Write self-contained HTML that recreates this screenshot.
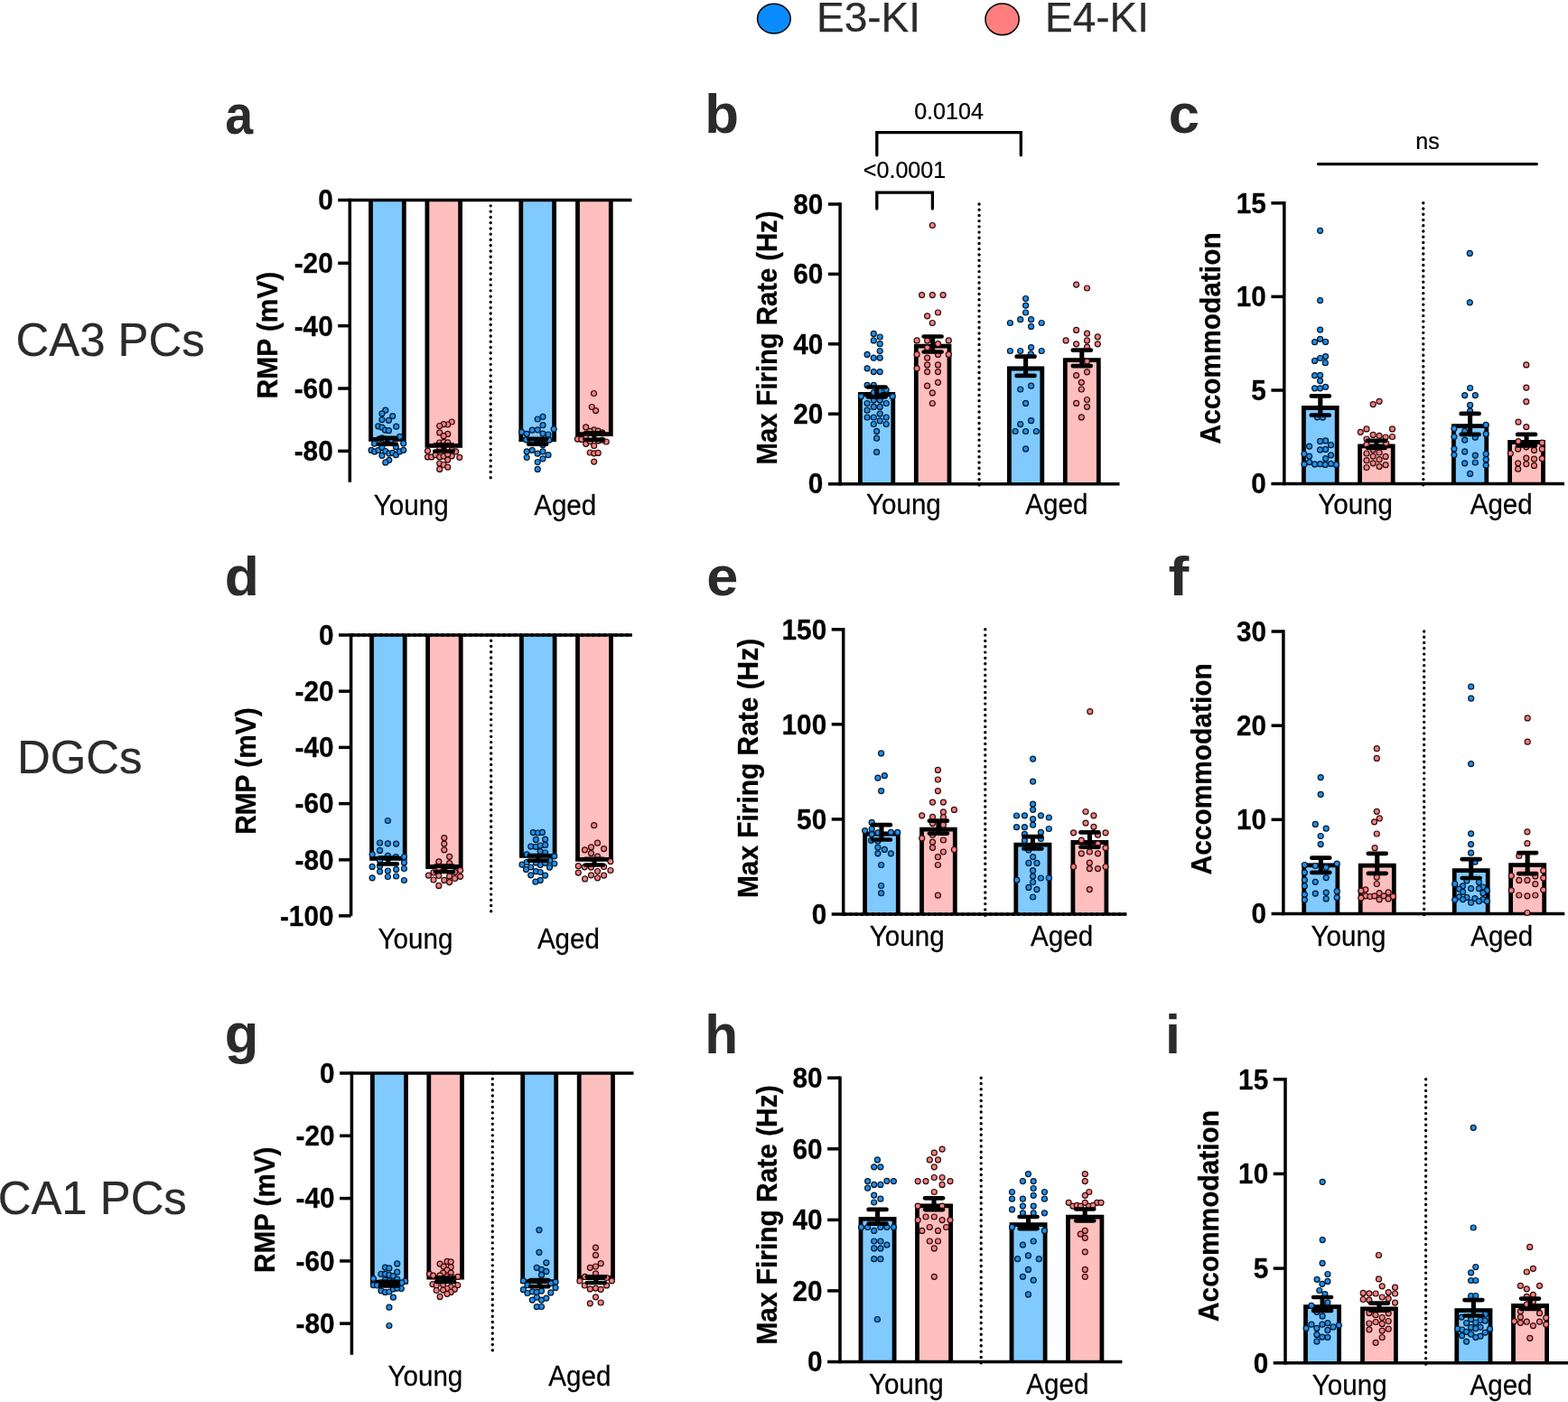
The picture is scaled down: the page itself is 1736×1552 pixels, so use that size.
<!DOCTYPE html>
<html lang="en">
<head>
<meta charset="utf-8">
<title>Figure: E3-KI vs E4-KI electrophysiology</title>
<style>
html,body{margin:0;padding:0;background:#fff;}
body{width:1736px;height:1552px;overflow:hidden;font-family:"Liberation Sans",Arial,Helvetica,sans-serif;}
svg{display:block;}
</style>
</head>
<body>
<svg width="1736" height="1552" viewBox="0 0 1736 1552" font-family="'Liberation Sans', Arial, Helvetica, sans-serif">
<rect x="0" y="0" width="1736" height="1552" fill="#fff"/>
<ellipse cx="856.9" cy="20.7" rx="18.3" ry="16.4" fill="#0a8cff" stroke="#000" stroke-width="1.5"/>
<text transform="translate(904 34.9)" font-size="46" font-weight="normal" text-anchor="start" fill="#2b2b2b" stroke="#2b2b2b" stroke-width="0.25" stroke-linejoin="round">E3-KI</text>
<ellipse cx="1109.6" cy="21.4" rx="18.6" ry="17.3" fill="#ff7f7f" stroke="#000" stroke-width="1.5"/>
<text transform="translate(1157 34.9)" font-size="46" font-weight="normal" text-anchor="start" fill="#2b2b2b" stroke="#2b2b2b" stroke-width="0.25" stroke-linejoin="round">E4-KI</text>
<text transform="translate(17.5 394.3) scale(0.967 1)" font-size="52.6" font-weight="normal" text-anchor="start" fill="#2b2b2b" stroke="#2b2b2b" stroke-width="0.25" stroke-linejoin="round">CA3 PCs</text>
<text transform="translate(19 856.1) scale(0.967 1)" font-size="52.6" font-weight="normal" text-anchor="start" fill="#2b2b2b" stroke="#2b2b2b" stroke-width="0.25" stroke-linejoin="round">DGCs</text>
<text transform="translate(-2.3 1343.6) scale(0.967 1)" font-size="52.6" font-weight="normal" text-anchor="start" fill="#2b2b2b" stroke="#2b2b2b" stroke-width="0.25" stroke-linejoin="round">CA1 PCs</text>
<g id="panel-a">
<rect x="410.5" y="221.6" width="36.8" height="267.1" fill="#80caff"/>
<path d="M410.5 221.6V486.3H447.3V221.6" fill="none" stroke="#000" stroke-width="4.8"/>
<rect x="472.9" y="221.6" width="36.7" height="274.2" fill="#ffbfbf"/>
<path d="M472.9 221.6V493.4H509.6V221.6" fill="none" stroke="#000" stroke-width="4.8"/>
<rect x="576.8" y="221.6" width="36.8" height="267.4" fill="#80caff"/>
<path d="M576.8 221.6V486.6H613.6V221.6" fill="none" stroke="#000" stroke-width="4.8"/>
<rect x="639.5" y="221.6" width="36.8" height="261.5" fill="#ffbfbf"/>
<path d="M639.5 221.6V480.7H676.3V221.6" fill="none" stroke="#000" stroke-width="4.8"/>
<line x1="543.2" y1="221.6" x2="543.2" y2="528.74" stroke="#000" stroke-width="3.4" stroke-linecap="round" stroke-dasharray="0 6.267"/>
<line x1="387.3" y1="219.85" x2="387.3" y2="533.7" stroke="#000" stroke-width="3.5"/>
<line x1="374.2" y1="221.6" x2="699.5" y2="221.6" stroke="#000" stroke-width="3.5"/>
<text transform="translate(368.7 232.42) scale(0.930 1)" font-size="32" font-weight="bold" text-anchor="end" fill="#000" stroke="#000" stroke-width="0.3" stroke-linejoin="round">0</text>
<line x1="374.2" y1="291.3" x2="387.3" y2="291.3" stroke="#000" stroke-width="3.5"/>
<text transform="translate(368.7 302.12) scale(0.930 1)" font-size="32" font-weight="bold" text-anchor="end" fill="#000" stroke="#000" stroke-width="0.3" stroke-linejoin="round">-20</text>
<line x1="374.2" y1="360.7" x2="387.3" y2="360.7" stroke="#000" stroke-width="3.5"/>
<text transform="translate(368.7 371.52) scale(0.930 1)" font-size="32" font-weight="bold" text-anchor="end" fill="#000" stroke="#000" stroke-width="0.3" stroke-linejoin="round">-40</text>
<line x1="374.2" y1="430" x2="387.3" y2="430" stroke="#000" stroke-width="3.5"/>
<text transform="translate(368.7 440.82) scale(0.930 1)" font-size="32" font-weight="bold" text-anchor="end" fill="#000" stroke="#000" stroke-width="0.3" stroke-linejoin="round">-60</text>
<line x1="374.2" y1="499.3" x2="387.3" y2="499.3" stroke="#000" stroke-width="3.5"/>
<text transform="translate(368.7 510.12) scale(0.930 1)" font-size="32" font-weight="bold" text-anchor="end" fill="#000" stroke="#000" stroke-width="0.3" stroke-linejoin="round">-80</text>
<g fill="#1e90ea" stroke="#06182c" stroke-width="1.2">
<circle cx="426.8" cy="454.2" r="3"/>
<circle cx="422.9" cy="457.8" r="3"/>
<circle cx="434.7" cy="460.6" r="3"/>
<circle cx="422.9" cy="464.6" r="3"/>
<circle cx="430.4" cy="465.3" r="3"/>
<circle cx="418.8" cy="471.8" r="3"/>
<circle cx="422.9" cy="473.1" r="3"/>
<circle cx="438.7" cy="472.2" r="3"/>
<circle cx="426.5" cy="476.1" r="3"/>
<circle cx="430.4" cy="476.7" r="3"/>
<circle cx="442.6" cy="483.4" r="3"/>
<circle cx="414.5" cy="491.1" r="3"/>
<circle cx="446.7" cy="490.9" r="3"/>
<circle cx="411.1" cy="498.4" r="3"/>
<circle cx="414.8" cy="499.9" r="3"/>
<circle cx="419" cy="498.3" r="3"/>
<circle cx="422.9" cy="495.3" r="3"/>
<circle cx="426.8" cy="499.5" r="3"/>
<circle cx="430.9" cy="502.2" r="3"/>
<circle cx="422.9" cy="504.3" r="3"/>
<circle cx="434.7" cy="501.4" r="3"/>
<circle cx="438.4" cy="503.7" r="3"/>
<circle cx="442.3" cy="499.9" r="3"/>
<circle cx="446.7" cy="498.3" r="3"/>
<circle cx="438.4" cy="494.7" r="3"/>
<circle cx="430.8" cy="509.3" r="3"/>
<circle cx="426.8" cy="511.9" r="3"/>
<circle cx="422.9" cy="484.9" r="3"/>
<circle cx="426.8" cy="486.4" r="3"/>
<circle cx="432.4" cy="487.9" r="3"/>
</g>
<g fill="#f48080" stroke="#2e0c0c" stroke-width="1.2">
<circle cx="500.2" cy="467" r="3"/>
<circle cx="495.7" cy="470" r="3"/>
<circle cx="491.2" cy="469.6" r="3"/>
<circle cx="486.7" cy="471.5" r="3"/>
<circle cx="486.7" cy="478.9" r="3"/>
<circle cx="495.7" cy="480.4" r="3"/>
<circle cx="491.2" cy="482.7" r="3"/>
<circle cx="486.7" cy="490" r="3"/>
<circle cx="491.2" cy="489.4" r="3"/>
<circle cx="495.7" cy="489.8" r="3"/>
<circle cx="473.5" cy="499.2" r="3"/>
<circle cx="504.7" cy="499.9" r="3"/>
<circle cx="473.5" cy="505.9" r="3"/>
<circle cx="477.7" cy="505.9" r="3"/>
<circle cx="482.2" cy="503.7" r="3"/>
<circle cx="486.7" cy="505.9" r="3"/>
<circle cx="491.2" cy="505.1" r="3"/>
<circle cx="495.7" cy="508.9" r="3"/>
<circle cx="500.2" cy="504.8" r="3"/>
<circle cx="508.8" cy="506.3" r="3"/>
<circle cx="486.7" cy="513" r="3"/>
<circle cx="491.2" cy="514.5" r="3"/>
<circle cx="495.7" cy="517.1" r="3"/>
<circle cx="486.7" cy="519.4" r="3"/>
<circle cx="495.7" cy="502.9" r="3"/>
<circle cx="491.2" cy="496.9" r="3"/>
<circle cx="486.7" cy="497.7" r="3"/>
<circle cx="500.2" cy="498.4" r="3"/>
</g>
<g fill="#1e90ea" stroke="#06182c" stroke-width="1.2">
<circle cx="601" cy="461.3" r="3"/>
<circle cx="595.2" cy="464" r="3"/>
<circle cx="601" cy="470.7" r="3"/>
<circle cx="589.2" cy="476.2" r="3"/>
<circle cx="595.2" cy="475.8" r="3"/>
<circle cx="613.2" cy="475" r="3"/>
<circle cx="577.6" cy="478.3" r="3"/>
<circle cx="583.2" cy="480.3" r="3"/>
<circle cx="601" cy="480.1" r="3"/>
<circle cx="607" cy="481" r="3"/>
<circle cx="582.5" cy="486.8" r="3"/>
<circle cx="607.9" cy="487.2" r="3"/>
<circle cx="601" cy="492.4" r="3"/>
<circle cx="583.2" cy="499.9" r="3"/>
<circle cx="589.2" cy="498.3" r="3"/>
<circle cx="595.2" cy="502.2" r="3"/>
<circle cx="601" cy="499.8" r="3"/>
<circle cx="607" cy="503.7" r="3"/>
<circle cx="583.2" cy="506.5" r="3"/>
<circle cx="601" cy="507.8" r="3"/>
<circle cx="595.2" cy="511.5" r="3"/>
<circle cx="595.2" cy="519.4" r="3"/>
<circle cx="589.2" cy="487.9" r="3"/>
<circle cx="595.2" cy="488.7" r="3"/>
</g>
<g fill="#f48080" stroke="#2e0c0c" stroke-width="1.2">
<circle cx="657.5" cy="435.5" r="3"/>
<circle cx="655.3" cy="450.5" r="3"/>
<circle cx="659.6" cy="454.6" r="3"/>
<circle cx="648.7" cy="472.9" r="3"/>
<circle cx="657.7" cy="475.9" r="3"/>
<circle cx="662.2" cy="477.1" r="3"/>
<circle cx="653.2" cy="477.4" r="3"/>
<circle cx="639.4" cy="486.1" r="3"/>
<circle cx="643.9" cy="486.4" r="3"/>
<circle cx="648.7" cy="484.9" r="3"/>
<circle cx="671.2" cy="489" r="3"/>
<circle cx="648.7" cy="491.3" r="3"/>
<circle cx="653.2" cy="488.7" r="3"/>
<circle cx="657.7" cy="493.5" r="3"/>
<circle cx="653.2" cy="501" r="3"/>
<circle cx="657.7" cy="501.8" r="3"/>
<circle cx="662.2" cy="501.4" r="3"/>
<circle cx="657.7" cy="511.1" r="3"/>
<circle cx="666.7" cy="478.9" r="3"/>
<circle cx="662.2" cy="487.9" r="3"/>
<circle cx="666.7" cy="487.2" r="3"/>
</g>
<line x1="428.9" y1="484.9" x2="428.9" y2="491.7" stroke="#000" stroke-width="5.1"/>
<line x1="418.95" y1="484.9" x2="438.85" y2="484.9" stroke="#000" stroke-width="4.7" stroke-linecap="round"/>
<line x1="418.95" y1="491.7" x2="438.85" y2="491.7" stroke="#000" stroke-width="4.7" stroke-linecap="round"/>
<line x1="491.25" y1="492.4" x2="491.25" y2="499.5" stroke="#000" stroke-width="5.1"/>
<line x1="481.3" y1="492.4" x2="501.2" y2="492.4" stroke="#000" stroke-width="4.7" stroke-linecap="round"/>
<line x1="481.3" y1="499.5" x2="501.2" y2="499.5" stroke="#000" stroke-width="4.7" stroke-linecap="round"/>
<line x1="595.2" y1="485.8" x2="595.2" y2="491.7" stroke="#000" stroke-width="5.1"/>
<line x1="585.25" y1="485.8" x2="605.15" y2="485.8" stroke="#000" stroke-width="4.7" stroke-linecap="round"/>
<line x1="585.25" y1="491.7" x2="605.15" y2="491.7" stroke="#000" stroke-width="4.7" stroke-linecap="round"/>
<line x1="657.9" y1="479.3" x2="657.9" y2="486.8" stroke="#000" stroke-width="5.1"/>
<line x1="647.95" y1="479.3" x2="667.85" y2="479.3" stroke="#000" stroke-width="4.7" stroke-linecap="round"/>
<line x1="647.95" y1="486.8" x2="667.85" y2="486.8" stroke="#000" stroke-width="4.7" stroke-linecap="round"/>
<text transform="translate(455.2 569.7) scale(0.960 1)" font-size="30.8" font-weight="normal" text-anchor="middle" fill="#000" stroke="#000" stroke-width="0.25" stroke-linejoin="round">Young</text>
<text transform="translate(625.7 569.7) scale(0.960 1)" font-size="30.8" font-weight="normal" text-anchor="middle" fill="#000" stroke="#000" stroke-width="0.25" stroke-linejoin="round">Aged</text>
<text transform="translate(307.1 371) rotate(-90) scale(0.934 1)" font-size="32" font-weight="bold" text-anchor="middle" fill="#000" stroke="#000" stroke-width="0.3" stroke-linejoin="round">RMP (mV)</text>
<text transform="translate(249.2 147.8) scale(0.910 1)" font-size="61" font-weight="bold" text-anchor="start" fill="#2b2b2b">a</text>
</g>
<g id="panel-b">
<rect x="952.4" y="434.1" width="36.4" height="101.55" fill="#80caff"/>
<path d="M952.4 535.65V436.5H988.8V535.65" fill="none" stroke="#000" stroke-width="4.8"/>
<rect x="1014.3" y="380.7" width="36.7" height="154.95" fill="#ffbfbf"/>
<path d="M1014.3 535.65V383.1H1051V535.65" fill="none" stroke="#000" stroke-width="4.8"/>
<rect x="1117.4" y="405.6" width="36.4" height="130.05" fill="#80caff"/>
<path d="M1117.4 535.65V408H1153.8V535.65" fill="none" stroke="#000" stroke-width="4.8"/>
<rect x="1179.3" y="396.3" width="37" height="139.35" fill="#ffbfbf"/>
<path d="M1179.3 535.65V398.7H1216.3V535.65" fill="none" stroke="#000" stroke-width="4.8"/>
<line x1="1084.06" y1="226" x2="1084.06" y2="536.94" stroke="#000" stroke-width="3.4" stroke-linecap="round" stroke-dasharray="0 6.218"/>
<line x1="930.1" y1="224.25" x2="930.1" y2="537.4" stroke="#000" stroke-width="3.5"/>
<line x1="916.9" y1="535.65" x2="1239.5" y2="535.65" stroke="#000" stroke-width="3.5"/>
<text transform="translate(911.4 546.47) scale(0.930 1)" font-size="32" font-weight="bold" text-anchor="end" fill="#000" stroke="#000" stroke-width="0.3" stroke-linejoin="round">0</text>
<line x1="916.9" y1="458.2" x2="930.1" y2="458.2" stroke="#000" stroke-width="3.5"/>
<text transform="translate(911.4 469.02) scale(0.930 1)" font-size="32" font-weight="bold" text-anchor="end" fill="#000" stroke="#000" stroke-width="0.3" stroke-linejoin="round">20</text>
<line x1="916.9" y1="380.8" x2="930.1" y2="380.8" stroke="#000" stroke-width="3.5"/>
<text transform="translate(911.4 391.62) scale(0.930 1)" font-size="32" font-weight="bold" text-anchor="end" fill="#000" stroke="#000" stroke-width="0.3" stroke-linejoin="round">40</text>
<line x1="916.9" y1="303.4" x2="930.1" y2="303.4" stroke="#000" stroke-width="3.5"/>
<text transform="translate(911.4 314.22) scale(0.930 1)" font-size="32" font-weight="bold" text-anchor="end" fill="#000" stroke="#000" stroke-width="0.3" stroke-linejoin="round">60</text>
<line x1="916.9" y1="226" x2="930.1" y2="226" stroke="#000" stroke-width="3.5"/>
<text transform="translate(911.4 236.82) scale(0.930 1)" font-size="32" font-weight="bold" text-anchor="end" fill="#000" stroke="#000" stroke-width="0.3" stroke-linejoin="round">80</text>
<g fill="#1e90ea" stroke="#06182c" stroke-width="1.2">
<circle cx="967.3" cy="369.4" r="3"/>
<circle cx="974.2" cy="373" r="3"/>
<circle cx="967.3" cy="376.9" r="3"/>
<circle cx="974.2" cy="380.7" r="3"/>
<circle cx="974.2" cy="388.5" r="3"/>
<circle cx="960.1" cy="392.4" r="3"/>
<circle cx="967.3" cy="396.2" r="3"/>
<circle cx="974.2" cy="396.2" r="3"/>
<circle cx="960.1" cy="407.8" r="3"/>
<circle cx="967.3" cy="411.6" r="3"/>
<circle cx="974.2" cy="411.6" r="3"/>
<circle cx="960.1" cy="426.4" r="3"/>
<circle cx="967.3" cy="426.4" r="3"/>
<circle cx="967.3" cy="434.6" r="3"/>
<circle cx="974" cy="432.6" r="3"/>
<circle cx="981.2" cy="431.5" r="3"/>
<circle cx="953.4" cy="438.8" r="3"/>
<circle cx="988.2" cy="438.8" r="3"/>
<circle cx="960.1" cy="446.5" r="3"/>
<circle cx="967.3" cy="442.9" r="3"/>
<circle cx="974.2" cy="442.9" r="3"/>
<circle cx="981.2" cy="446.5" r="3"/>
<circle cx="967.3" cy="450.4" r="3"/>
<circle cx="974.2" cy="450.4" r="3"/>
<circle cx="960.1" cy="454.2" r="3"/>
<circle cx="974.2" cy="458.1" r="3"/>
<circle cx="960.1" cy="462" r="3"/>
<circle cx="967.3" cy="462" r="3"/>
<circle cx="981.2" cy="462" r="3"/>
<circle cx="974.2" cy="465.8" r="3"/>
<circle cx="967.3" cy="469.5" r="3"/>
<circle cx="981.2" cy="469.5" r="3"/>
<circle cx="970.6" cy="477.4" r="3"/>
<circle cx="970.6" cy="485.2" r="3"/>
<circle cx="970.6" cy="500.4" r="3"/>
</g>
<g fill="#f48080" stroke="#2e0c0c" stroke-width="1.2">
<circle cx="1032.3" cy="249.5" r="3"/>
<circle cx="1020.6" cy="326.6" r="3"/>
<circle cx="1032.3" cy="326.6" r="3"/>
<circle cx="1044.1" cy="326.6" r="3"/>
<circle cx="1038.5" cy="346" r="3"/>
<circle cx="1026.6" cy="349.8" r="3"/>
<circle cx="1032.3" cy="357.5" r="3"/>
<circle cx="1015.1" cy="376.9" r="3"/>
<circle cx="1026.6" cy="377.1" r="3"/>
<circle cx="1050.3" cy="376.9" r="3"/>
<circle cx="1038.5" cy="380.7" r="3"/>
<circle cx="1026.6" cy="384.8" r="3"/>
<circle cx="1015.1" cy="392.4" r="3"/>
<circle cx="1038.5" cy="392.4" r="3"/>
<circle cx="1050.3" cy="392.4" r="3"/>
<circle cx="1026.6" cy="396.2" r="3"/>
<circle cx="1026.6" cy="403.9" r="3"/>
<circle cx="1038.5" cy="403.9" r="3"/>
<circle cx="1015.1" cy="407.8" r="3"/>
<circle cx="1026.6" cy="411.6" r="3"/>
<circle cx="1038.5" cy="411.6" r="3"/>
<circle cx="1038.5" cy="423.3" r="3"/>
<circle cx="1026.6" cy="427.2" r="3"/>
<circle cx="1032.3" cy="434.9" r="3"/>
<circle cx="1032.3" cy="446.5" r="3"/>
</g>
<g fill="#1e90ea" stroke="#06182c" stroke-width="1.2">
<circle cx="1135.6" cy="330.5" r="3"/>
<circle cx="1135.6" cy="338.2" r="3"/>
<circle cx="1135.6" cy="346" r="3"/>
<circle cx="1129.7" cy="353.7" r="3"/>
<circle cx="1141.6" cy="353.7" r="3"/>
<circle cx="1118.4" cy="357.5" r="3"/>
<circle cx="1153.2" cy="357.5" r="3"/>
<circle cx="1141.6" cy="361.4" r="3"/>
<circle cx="1141.6" cy="384.6" r="3"/>
<circle cx="1118.4" cy="388.5" r="3"/>
<circle cx="1129.7" cy="388.5" r="3"/>
<circle cx="1153.2" cy="388.5" r="3"/>
<circle cx="1141.3" cy="391.9" r="3"/>
<circle cx="1141.6" cy="427.2" r="3"/>
<circle cx="1129.7" cy="431" r="3"/>
<circle cx="1135.6" cy="446.4" r="3"/>
<circle cx="1141.6" cy="465.7" r="3"/>
<circle cx="1129.7" cy="469.6" r="3"/>
<circle cx="1124.1" cy="477.5" r="3"/>
<circle cx="1135.6" cy="477.5" r="3"/>
<circle cx="1147.3" cy="477.5" r="3"/>
<circle cx="1135.6" cy="496.9" r="3"/>
</g>
<g fill="#f48080" stroke="#2e0c0c" stroke-width="1.2">
<circle cx="1191.6" cy="315.1" r="3"/>
<circle cx="1203.5" cy="319" r="3"/>
<circle cx="1191.6" cy="365.4" r="3"/>
<circle cx="1203.5" cy="369.2" r="3"/>
<circle cx="1215.3" cy="372.8" r="3"/>
<circle cx="1180.1" cy="376.9" r="3"/>
<circle cx="1203.5" cy="376.9" r="3"/>
<circle cx="1191.6" cy="380.8" r="3"/>
<circle cx="1215.3" cy="380.8" r="3"/>
<circle cx="1203.5" cy="384.1" r="3"/>
<circle cx="1203.5" cy="400.1" r="3"/>
<circle cx="1203.5" cy="411.8" r="3"/>
<circle cx="1191.6" cy="415.6" r="3"/>
<circle cx="1197.3" cy="423.3" r="3"/>
<circle cx="1197.3" cy="431" r="3"/>
<circle cx="1203.5" cy="442.5" r="3"/>
<circle cx="1191.6" cy="446.4" r="3"/>
<circle cx="1203.5" cy="450.3" r="3"/>
<circle cx="1197.3" cy="461.9" r="3"/>
</g>
<line x1="970.6" y1="428.5" x2="970.6" y2="439.3" stroke="#000" stroke-width="5.1"/>
<line x1="960.65" y1="428.5" x2="980.55" y2="428.5" stroke="#000" stroke-width="4.7" stroke-linecap="round"/>
<line x1="960.65" y1="439.3" x2="980.55" y2="439.3" stroke="#000" stroke-width="4.7" stroke-linecap="round"/>
<line x1="1032.65" y1="372.5" x2="1032.65" y2="389.5" stroke="#000" stroke-width="5.1"/>
<line x1="1022.7" y1="372.5" x2="1042.6" y2="372.5" stroke="#000" stroke-width="4.7" stroke-linecap="round"/>
<line x1="1022.7" y1="389.5" x2="1042.6" y2="389.5" stroke="#000" stroke-width="4.7" stroke-linecap="round"/>
<line x1="1135.6" y1="394.7" x2="1135.6" y2="415.9" stroke="#000" stroke-width="5.1"/>
<line x1="1125.65" y1="394.7" x2="1145.55" y2="394.7" stroke="#000" stroke-width="4.7" stroke-linecap="round"/>
<line x1="1125.65" y1="415.9" x2="1145.55" y2="415.9" stroke="#000" stroke-width="4.7" stroke-linecap="round"/>
<line x1="1197.8" y1="387.7" x2="1197.8" y2="405.1" stroke="#000" stroke-width="5.1"/>
<line x1="1187.85" y1="387.7" x2="1207.75" y2="387.7" stroke="#000" stroke-width="4.7" stroke-linecap="round"/>
<line x1="1187.85" y1="405.1" x2="1207.75" y2="405.1" stroke="#000" stroke-width="4.7" stroke-linecap="round"/>
<text transform="translate(1000.4 569.2) scale(0.960 1)" font-size="30.8" font-weight="normal" text-anchor="middle" fill="#000" stroke="#000" stroke-width="0.25" stroke-linejoin="round">Young</text>
<text transform="translate(1169.8 569.2) scale(0.960 1)" font-size="30.8" font-weight="normal" text-anchor="middle" fill="#000" stroke="#000" stroke-width="0.25" stroke-linejoin="round">Aged</text>
<text transform="translate(860.2 374) rotate(-90) scale(0.934 1)" font-size="31.3" font-weight="bold" text-anchor="middle" fill="#000" stroke="#000" stroke-width="0.3" stroke-linejoin="round">Max Firing Rate (Hz)</text>
<text transform="translate(780.3 147.1) scale(1.013 1)" font-size="61" font-weight="bold" text-anchor="start" fill="#2b2b2b">b</text>
</g>
<g id="panel-c">
<rect x="1443.4" y="449.1" width="36.8" height="86.5" fill="#80caff"/>
<path d="M1443.4 535.6V451.5H1480.2V535.6" fill="none" stroke="#000" stroke-width="4.8"/>
<rect x="1505.6" y="491.5" width="36.6" height="44.1" fill="#ffbfbf"/>
<path d="M1505.6 535.6V493.9H1542.2V535.6" fill="none" stroke="#000" stroke-width="4.8"/>
<rect x="1609.4" y="469.2" width="36.4" height="66.4" fill="#80caff"/>
<path d="M1609.4 535.6V471.6H1645.8V535.6" fill="none" stroke="#000" stroke-width="4.8"/>
<rect x="1671.6" y="487.1" width="36.9" height="48.5" fill="#ffbfbf"/>
<path d="M1671.6 535.6V489.5H1708.5V535.6" fill="none" stroke="#000" stroke-width="4.8"/>
<line x1="1575.8" y1="224.8" x2="1575.8" y2="536.9" stroke="#000" stroke-width="3.4" stroke-linecap="round" stroke-dasharray="0 6.241"/>
<line x1="1421.8" y1="223.05" x2="1421.8" y2="537.35" stroke="#000" stroke-width="3.5"/>
<line x1="1407.4" y1="535.6" x2="1732" y2="535.6" stroke="#000" stroke-width="3.5"/>
<text transform="translate(1401.9 546.42) scale(0.930 1)" font-size="32" font-weight="bold" text-anchor="end" fill="#000" stroke="#000" stroke-width="0.3" stroke-linejoin="round">0</text>
<line x1="1407.4" y1="432" x2="1421.8" y2="432" stroke="#000" stroke-width="3.5"/>
<text transform="translate(1401.9 442.82) scale(0.930 1)" font-size="32" font-weight="bold" text-anchor="end" fill="#000" stroke="#000" stroke-width="0.3" stroke-linejoin="round">5</text>
<line x1="1407.4" y1="328.4" x2="1421.8" y2="328.4" stroke="#000" stroke-width="3.5"/>
<text transform="translate(1401.9 339.22) scale(0.930 1)" font-size="32" font-weight="bold" text-anchor="end" fill="#000" stroke="#000" stroke-width="0.3" stroke-linejoin="round">10</text>
<line x1="1407.4" y1="224.8" x2="1421.8" y2="224.8" stroke="#000" stroke-width="3.5"/>
<text transform="translate(1401.9 235.62) scale(0.930 1)" font-size="32" font-weight="bold" text-anchor="end" fill="#000" stroke="#000" stroke-width="0.3" stroke-linejoin="round">15</text>
<g fill="#1e90ea" stroke="#06182c" stroke-width="1.2">
<circle cx="1461.6" cy="255.3" r="3"/>
<circle cx="1461.6" cy="332.6" r="3"/>
<circle cx="1461.6" cy="365.1" r="3"/>
<circle cx="1461.6" cy="375.3" r="3"/>
<circle cx="1455.6" cy="378.7" r="3"/>
<circle cx="1467.6" cy="378.4" r="3"/>
<circle cx="1467.6" cy="394.6" r="3"/>
<circle cx="1461.6" cy="396.5" r="3"/>
<circle cx="1455.6" cy="399.4" r="3"/>
<circle cx="1467.3" cy="401.7" r="3"/>
<circle cx="1455.6" cy="415.7" r="3"/>
<circle cx="1461.6" cy="415.4" r="3"/>
<circle cx="1461.6" cy="421.6" r="3"/>
<circle cx="1455.6" cy="429.8" r="3"/>
<circle cx="1461.6" cy="429.8" r="3"/>
<circle cx="1467.6" cy="428.3" r="3"/>
<circle cx="1458.4" cy="461.8" r="3"/>
<circle cx="1464.5" cy="462.1" r="3"/>
<circle cx="1461.6" cy="488.4" r="3"/>
<circle cx="1467.6" cy="487.9" r="3"/>
<circle cx="1449.6" cy="494.1" r="3"/>
<circle cx="1473.5" cy="492.7" r="3"/>
<circle cx="1461.6" cy="497.9" r="3"/>
<circle cx="1467.6" cy="497.4" r="3"/>
<circle cx="1443.9" cy="502.5" r="3"/>
<circle cx="1449.6" cy="505.1" r="3"/>
<circle cx="1473.5" cy="503.8" r="3"/>
<circle cx="1467.6" cy="507.7" r="3"/>
<circle cx="1449.6" cy="511.6" r="3"/>
<circle cx="1443.9" cy="513.9" r="3"/>
<circle cx="1455.6" cy="513.9" r="3"/>
<circle cx="1461.6" cy="513.7" r="3"/>
<circle cx="1467.3" cy="514.4" r="3"/>
<circle cx="1473.5" cy="513.4" r="3"/>
<circle cx="1479.5" cy="514.4" r="3"/>
</g>
<g fill="#f48080" stroke="#2e0c0c" stroke-width="1.2">
<circle cx="1527.1" cy="444.3" r="3"/>
<circle cx="1520.2" cy="447.6" r="3"/>
<circle cx="1513" cy="474.9" r="3"/>
<circle cx="1506.3" cy="478.3" r="3"/>
<circle cx="1541.5" cy="474.9" r="3"/>
<circle cx="1520.2" cy="481.4" r="3"/>
<circle cx="1527.1" cy="482.4" r="3"/>
<circle cx="1534.1" cy="484" r="3"/>
<circle cx="1541.5" cy="483.5" r="3"/>
<circle cx="1513" cy="486" r="3"/>
<circle cx="1513" cy="492.2" r="3"/>
<circle cx="1534.6" cy="490.7" r="3"/>
<circle cx="1520.2" cy="497.9" r="3"/>
<circle cx="1513" cy="502" r="3"/>
<circle cx="1527.1" cy="501" r="3"/>
<circle cx="1520.2" cy="505.1" r="3"/>
<circle cx="1534.1" cy="505.4" r="3"/>
<circle cx="1513" cy="509.7" r="3"/>
<circle cx="1527.1" cy="508.7" r="3"/>
<circle cx="1520.2" cy="512.8" r="3"/>
<circle cx="1534.1" cy="514.7" r="3"/>
<circle cx="1513" cy="517.5" r="3"/>
<circle cx="1527.1" cy="516.4" r="3"/>
</g>
<g fill="#1e90ea" stroke="#06182c" stroke-width="1.2">
<circle cx="1627.3" cy="280.4" r="3"/>
<circle cx="1627.3" cy="334.8" r="3"/>
<circle cx="1627.6" cy="429.5" r="3"/>
<circle cx="1621.7" cy="437.6" r="3"/>
<circle cx="1633.3" cy="437.6" r="3"/>
<circle cx="1627.6" cy="448.4" r="3"/>
<circle cx="1627.6" cy="455.1" r="3"/>
<circle cx="1645.2" cy="470.4" r="3"/>
<circle cx="1609.9" cy="474.5" r="3"/>
<circle cx="1621.7" cy="477.3" r="3"/>
<circle cx="1645.2" cy="480.4" r="3"/>
<circle cx="1609.9" cy="483.5" r="3"/>
<circle cx="1633.3" cy="484.2" r="3"/>
<circle cx="1621.7" cy="487.1" r="3"/>
<circle cx="1609.9" cy="496.9" r="3"/>
<circle cx="1621.7" cy="499.9" r="3"/>
<circle cx="1609.9" cy="503.6" r="3"/>
<circle cx="1633.3" cy="504.1" r="3"/>
<circle cx="1645.2" cy="502.5" r="3"/>
<circle cx="1645.2" cy="508.7" r="3"/>
<circle cx="1621.7" cy="512.8" r="3"/>
<circle cx="1633.3" cy="512" r="3"/>
<circle cx="1645.2" cy="515.1" r="3"/>
<circle cx="1627.6" cy="524.4" r="3"/>
</g>
<g fill="#f48080" stroke="#2e0c0c" stroke-width="1.2">
<circle cx="1689.8" cy="403.9" r="3"/>
<circle cx="1689.8" cy="429.1" r="3"/>
<circle cx="1689.8" cy="444.6" r="3"/>
<circle cx="1681" cy="467.2" r="3"/>
<circle cx="1689.8" cy="472.6" r="3"/>
<circle cx="1681" cy="488.6" r="3"/>
<circle cx="1707.3" cy="490.2" r="3"/>
<circle cx="1680.7" cy="496.9" r="3"/>
<circle cx="1698.5" cy="498.4" r="3"/>
<circle cx="1707.3" cy="497.2" r="3"/>
<circle cx="1672.3" cy="502" r="3"/>
<circle cx="1689.8" cy="507.2" r="3"/>
<circle cx="1698.5" cy="508.2" r="3"/>
<circle cx="1707.3" cy="507.7" r="3"/>
<circle cx="1680.7" cy="512.8" r="3"/>
<circle cx="1689.8" cy="513.7" r="3"/>
<circle cx="1698.5" cy="515.4" r="3"/>
<circle cx="1680.7" cy="519.2" r="3"/>
<circle cx="1689.8" cy="494.8" r="3"/>
</g>
<line x1="1461.8" y1="438.4" x2="1461.8" y2="459.7" stroke="#000" stroke-width="5.1"/>
<line x1="1451.85" y1="438.4" x2="1471.75" y2="438.4" stroke="#000" stroke-width="4.7" stroke-linecap="round"/>
<line x1="1451.85" y1="459.7" x2="1471.75" y2="459.7" stroke="#000" stroke-width="4.7" stroke-linecap="round"/>
<line x1="1523.9" y1="487.9" x2="1523.9" y2="495.8" stroke="#000" stroke-width="5.1"/>
<line x1="1513.95" y1="487.9" x2="1533.85" y2="487.9" stroke="#000" stroke-width="4.7" stroke-linecap="round"/>
<line x1="1513.95" y1="495.8" x2="1533.85" y2="495.8" stroke="#000" stroke-width="4.7" stroke-linecap="round"/>
<line x1="1627.6" y1="457.9" x2="1627.6" y2="480.9" stroke="#000" stroke-width="5.1"/>
<line x1="1617.65" y1="457.9" x2="1637.55" y2="457.9" stroke="#000" stroke-width="4.7" stroke-linecap="round"/>
<line x1="1617.65" y1="480.9" x2="1637.55" y2="480.9" stroke="#000" stroke-width="4.7" stroke-linecap="round"/>
<line x1="1690.05" y1="480.9" x2="1690.05" y2="493.5" stroke="#000" stroke-width="5.1"/>
<line x1="1680.1" y1="480.9" x2="1700" y2="480.9" stroke="#000" stroke-width="4.7" stroke-linecap="round"/>
<line x1="1680.1" y1="493.5" x2="1700" y2="493.5" stroke="#000" stroke-width="4.7" stroke-linecap="round"/>
<text transform="translate(1500.6 569.2) scale(0.960 1)" font-size="30.8" font-weight="normal" text-anchor="middle" fill="#000" stroke="#000" stroke-width="0.25" stroke-linejoin="round">Young</text>
<text transform="translate(1662.2 569.2) scale(0.960 1)" font-size="30.8" font-weight="normal" text-anchor="middle" fill="#000" stroke="#000" stroke-width="0.25" stroke-linejoin="round">Aged</text>
<text transform="translate(1351.3 374.4) rotate(-90) scale(0.934 1)" font-size="32" font-weight="bold" text-anchor="middle" fill="#000" stroke="#000" stroke-width="0.3" stroke-linejoin="round">Accommodation</text>
<text transform="translate(1293.8 146.9) scale(1.010 1)" font-size="61" font-weight="bold" text-anchor="start" fill="#2b2b2b">c</text>
</g>
<g id="panel-d">
<rect x="411.5" y="703" width="36.7" height="249.7" fill="#80caff"/>
<path d="M411.5 703V950.3H448.2V703" fill="none" stroke="#000" stroke-width="4.8"/>
<rect x="473.6" y="703" width="36.6" height="258.9" fill="#ffbfbf"/>
<path d="M473.6 703V959.5H510.2V703" fill="none" stroke="#000" stroke-width="4.8"/>
<rect x="577.4" y="703" width="36.7" height="246.7" fill="#80caff"/>
<path d="M577.4 703V947.3H614.1V703" fill="none" stroke="#000" stroke-width="4.8"/>
<rect x="639.5" y="703" width="37" height="250.8" fill="#ffbfbf"/>
<path d="M639.5 703V951.4H676.5V703" fill="none" stroke="#000" stroke-width="4.8"/>
<line x1="543.7" y1="703" x2="543.7" y2="1008.86" stroke="#000" stroke-width="3.4" stroke-linecap="round" stroke-dasharray="0 6.241"/>
<line x1="388.6" y1="701.25" x2="388.6" y2="1013.8" stroke="#000" stroke-width="3.5"/>
<line x1="375" y1="703" x2="699.9" y2="703" stroke="#000" stroke-width="3.5"/>
<line x1="390.6" y1="703" x2="698.9" y2="703" stroke="#000" stroke-width="3.9" stroke-linecap="round" stroke-dasharray="0 6.2"/>
<text transform="translate(369.5 713.82) scale(0.930 1)" font-size="32" font-weight="bold" text-anchor="end" fill="#000" stroke="#000" stroke-width="0.3" stroke-linejoin="round">0</text>
<line x1="375" y1="765.2" x2="388.6" y2="765.2" stroke="#000" stroke-width="3.5"/>
<text transform="translate(369.5 776.02) scale(0.930 1)" font-size="32" font-weight="bold" text-anchor="end" fill="#000" stroke="#000" stroke-width="0.3" stroke-linejoin="round">-20</text>
<line x1="375" y1="827.4" x2="388.6" y2="827.4" stroke="#000" stroke-width="3.5"/>
<text transform="translate(369.5 838.22) scale(0.930 1)" font-size="32" font-weight="bold" text-anchor="end" fill="#000" stroke="#000" stroke-width="0.3" stroke-linejoin="round">-40</text>
<line x1="375" y1="889.6" x2="388.6" y2="889.6" stroke="#000" stroke-width="3.5"/>
<text transform="translate(369.5 900.42) scale(0.930 1)" font-size="32" font-weight="bold" text-anchor="end" fill="#000" stroke="#000" stroke-width="0.3" stroke-linejoin="round">-60</text>
<line x1="375" y1="951.8" x2="388.6" y2="951.8" stroke="#000" stroke-width="3.5"/>
<text transform="translate(369.5 962.62) scale(0.930 1)" font-size="32" font-weight="bold" text-anchor="end" fill="#000" stroke="#000" stroke-width="0.3" stroke-linejoin="round">-80</text>
<line x1="375" y1="1013.8" x2="388.6" y2="1013.8" stroke="#000" stroke-width="3.5"/>
<text transform="translate(369.5 1024.62) scale(0.930 1)" font-size="32" font-weight="bold" text-anchor="end" fill="#000" stroke="#000" stroke-width="0.3" stroke-linejoin="round">-100</text>
<g fill="#1e90ea" stroke="#06182c" stroke-width="1.2">
<circle cx="429.4" cy="908.5" r="3"/>
<circle cx="420.6" cy="933" r="3"/>
<circle cx="429.4" cy="933.8" r="3"/>
<circle cx="438.6" cy="934.1" r="3"/>
<circle cx="420.6" cy="941.4" r="3"/>
<circle cx="412.1" cy="945.8" r="3"/>
<circle cx="429.4" cy="947.4" r="3"/>
<circle cx="438.4" cy="948.5" r="3"/>
<circle cx="447.4" cy="948.5" r="3"/>
<circle cx="420.5" cy="952.7" r="3"/>
<circle cx="447.4" cy="954.9" r="3"/>
<circle cx="412.1" cy="959.4" r="3"/>
<circle cx="420.5" cy="958.7" r="3"/>
<circle cx="447.4" cy="961.5" r="3"/>
<circle cx="420.6" cy="964.8" r="3"/>
<circle cx="429.4" cy="964" r="3"/>
<circle cx="438.6" cy="962.4" r="3"/>
<circle cx="412.1" cy="971.8" r="3"/>
<circle cx="429.4" cy="970.5" r="3"/>
<circle cx="438.6" cy="970" r="3"/>
<circle cx="447.4" cy="974.5" r="3"/>
</g>
<g fill="#f48080" stroke="#2e0c0c" stroke-width="1.2">
<circle cx="491.8" cy="927.6" r="3"/>
<circle cx="491.8" cy="934.1" r="3"/>
<circle cx="491.8" cy="940.8" r="3"/>
<circle cx="497.6" cy="948.3" r="3"/>
<circle cx="485.8" cy="953.8" r="3"/>
<circle cx="497.6" cy="955.7" r="3"/>
<circle cx="509.6" cy="963.5" r="3"/>
<circle cx="480" cy="965.8" r="3"/>
<circle cx="474.4" cy="969.1" r="3"/>
<circle cx="485.8" cy="969.5" r="3"/>
<circle cx="497.6" cy="969.9" r="3"/>
<circle cx="503.6" cy="965.4" r="3"/>
<circle cx="509.6" cy="970.3" r="3"/>
<circle cx="480" cy="974" r="3"/>
<circle cx="491.8" cy="974.4" r="3"/>
<circle cx="503.6" cy="972.5" r="3"/>
<circle cx="497.6" cy="976.6" r="3"/>
<circle cx="485.8" cy="980.4" r="3"/>
<circle cx="491.8" cy="962.4" r="3"/>
<circle cx="485.8" cy="960.9" r="3"/>
</g>
<g fill="#1e90ea" stroke="#06182c" stroke-width="1.2">
<circle cx="590.3" cy="921.6" r="3"/>
<circle cx="595.6" cy="922" r="3"/>
<circle cx="600.4" cy="921.4" r="3"/>
<circle cx="593.3" cy="929.4" r="3"/>
<circle cx="603.6" cy="929.1" r="3"/>
<circle cx="587.7" cy="937.1" r="3"/>
<circle cx="593.3" cy="937.3" r="3"/>
<circle cx="598.2" cy="936" r="3"/>
<circle cx="603.6" cy="935.4" r="3"/>
<circle cx="598.2" cy="942.6" r="3"/>
<circle cx="603.6" cy="944" r="3"/>
<circle cx="583.2" cy="945.9" r="3"/>
<circle cx="613.8" cy="947.8" r="3"/>
<circle cx="578" cy="957.2" r="3"/>
<circle cx="583.2" cy="954.5" r="3"/>
<circle cx="613.8" cy="956" r="3"/>
<circle cx="587.7" cy="960" r="3"/>
<circle cx="598.2" cy="957.5" r="3"/>
<circle cx="593.3" cy="954.9" r="3"/>
<circle cx="603.6" cy="955.3" r="3"/>
<circle cx="608.5" cy="960.1" r="3"/>
<circle cx="608.7" cy="952.7" r="3"/>
<circle cx="582.5" cy="962.4" r="3"/>
<circle cx="593.3" cy="964.6" r="3"/>
<circle cx="598.2" cy="965.5" r="3"/>
<circle cx="587.7" cy="968.8" r="3"/>
<circle cx="603.6" cy="969.1" r="3"/>
<circle cx="598.2" cy="974.4" r="3"/>
<circle cx="592.9" cy="976.2" r="3"/>
</g>
<g fill="#f48080" stroke="#2e0c0c" stroke-width="1.2">
<circle cx="657.7" cy="913.7" r="3"/>
<circle cx="661.5" cy="933.2" r="3"/>
<circle cx="654.5" cy="937.8" r="3"/>
<circle cx="668.6" cy="939.6" r="3"/>
<circle cx="647.5" cy="940.8" r="3"/>
<circle cx="654.5" cy="944.6" r="3"/>
<circle cx="661.5" cy="948.2" r="3"/>
<circle cx="675.9" cy="953.6" r="3"/>
<circle cx="640.3" cy="958.7" r="3"/>
<circle cx="647.2" cy="959.8" r="3"/>
<circle cx="654.4" cy="960.1" r="3"/>
<circle cx="668.6" cy="959.5" r="3"/>
<circle cx="675.9" cy="963.5" r="3"/>
<circle cx="640.3" cy="966.1" r="3"/>
<circle cx="661.5" cy="964.5" r="3"/>
<circle cx="654.5" cy="968.8" r="3"/>
<circle cx="668.6" cy="969.1" r="3"/>
<circle cx="661.5" cy="971.8" r="3"/>
<circle cx="647.6" cy="972.9" r="3"/>
</g>
<line x1="429.85" y1="949.7" x2="429.85" y2="956.4" stroke="#000" stroke-width="5.1"/>
<line x1="419.9" y1="949.7" x2="439.8" y2="949.7" stroke="#000" stroke-width="4.7" stroke-linecap="round"/>
<line x1="419.9" y1="956.4" x2="439.8" y2="956.4" stroke="#000" stroke-width="4.7" stroke-linecap="round"/>
<line x1="491.9" y1="958.7" x2="491.9" y2="965" stroke="#000" stroke-width="5.1"/>
<line x1="481.95" y1="958.7" x2="501.85" y2="958.7" stroke="#000" stroke-width="4.7" stroke-linecap="round"/>
<line x1="481.95" y1="965" x2="501.85" y2="965" stroke="#000" stroke-width="4.7" stroke-linecap="round"/>
<line x1="595.75" y1="947" x2="595.75" y2="952.7" stroke="#000" stroke-width="5.1"/>
<line x1="585.8" y1="947" x2="605.7" y2="947" stroke="#000" stroke-width="4.7" stroke-linecap="round"/>
<line x1="585.8" y1="952.7" x2="605.7" y2="952.7" stroke="#000" stroke-width="4.7" stroke-linecap="round"/>
<line x1="658" y1="950.8" x2="658" y2="957.5" stroke="#000" stroke-width="5.1"/>
<line x1="648.05" y1="950.8" x2="667.95" y2="950.8" stroke="#000" stroke-width="4.7" stroke-linecap="round"/>
<line x1="648.05" y1="957.5" x2="667.95" y2="957.5" stroke="#000" stroke-width="4.7" stroke-linecap="round"/>
<text transform="translate(460 1050) scale(0.960 1)" font-size="30.8" font-weight="normal" text-anchor="middle" fill="#000" stroke="#000" stroke-width="0.25" stroke-linejoin="round">Young</text>
<text transform="translate(629.4 1050) scale(0.960 1)" font-size="30.8" font-weight="normal" text-anchor="middle" fill="#000" stroke="#000" stroke-width="0.25" stroke-linejoin="round">Aged</text>
<text transform="translate(283 853.6) rotate(-90) scale(0.934 1)" font-size="32" font-weight="bold" text-anchor="middle" fill="#000" stroke="#000" stroke-width="0.3" stroke-linejoin="round">RMP (mV)</text>
<text transform="translate(248.8 659.2) scale(1.023 1)" font-size="61" font-weight="bold" text-anchor="start" fill="#2b2b2b">d</text>
</g>
<g id="panel-e">
<rect x="957.6" y="920.6" width="36.7" height="91.4" fill="#80caff"/>
<path d="M957.6 1012V923H994.3V1012" fill="none" stroke="#000" stroke-width="4.8"/>
<rect x="1020.5" y="915.7" width="36.8" height="96.3" fill="#ffbfbf"/>
<path d="M1020.5 1012V918.1H1057.3V1012" fill="none" stroke="#000" stroke-width="4.8"/>
<rect x="1124.8" y="932.8" width="37.2" height="79.2" fill="#80caff"/>
<path d="M1124.8 1012V935.2H1162V1012" fill="none" stroke="#000" stroke-width="4.8"/>
<rect x="1187.9" y="930.1" width="37" height="81.9" fill="#ffbfbf"/>
<path d="M1187.9 1012V932.5H1224.9V1012" fill="none" stroke="#000" stroke-width="4.8"/>
<line x1="1090.8" y1="696.8" x2="1090.8" y2="1013.32" stroke="#000" stroke-width="3.4" stroke-linecap="round" stroke-dasharray="0 6.329"/>
<line x1="933.7" y1="695.05" x2="933.7" y2="1013.75" stroke="#000" stroke-width="3.5"/>
<line x1="920.7" y1="1012" x2="1247" y2="1012" stroke="#000" stroke-width="3.5"/>
<line x1="935.7" y1="1012" x2="1246" y2="1012" stroke="#000" stroke-width="3.9" stroke-linecap="round" stroke-dasharray="0 6.2"/>
<text transform="translate(915.2 1022.82) scale(0.930 1)" font-size="32" font-weight="bold" text-anchor="end" fill="#000" stroke="#000" stroke-width="0.3" stroke-linejoin="round">0</text>
<line x1="920.7" y1="906.9" x2="933.7" y2="906.9" stroke="#000" stroke-width="3.5"/>
<text transform="translate(915.2 917.72) scale(0.930 1)" font-size="32" font-weight="bold" text-anchor="end" fill="#000" stroke="#000" stroke-width="0.3" stroke-linejoin="round">50</text>
<line x1="920.7" y1="801.8" x2="933.7" y2="801.8" stroke="#000" stroke-width="3.5"/>
<text transform="translate(915.2 812.62) scale(0.930 1)" font-size="32" font-weight="bold" text-anchor="end" fill="#000" stroke="#000" stroke-width="0.3" stroke-linejoin="round">100</text>
<line x1="920.7" y1="696.8" x2="933.7" y2="696.8" stroke="#000" stroke-width="3.5"/>
<text transform="translate(915.2 707.62) scale(0.930 1)" font-size="32" font-weight="bold" text-anchor="end" fill="#000" stroke="#000" stroke-width="0.3" stroke-linejoin="round">150</text>
<g fill="#1e90ea" stroke="#06182c" stroke-width="1.2">
<circle cx="975.6" cy="833.9" r="3"/>
<circle cx="979.3" cy="858.7" r="3"/>
<circle cx="971.9" cy="861.2" r="3"/>
<circle cx="975.6" cy="875.6" r="3"/>
<circle cx="965.2" cy="910.4" r="3"/>
<circle cx="965.2" cy="917.5" r="3"/>
<circle cx="957.6" cy="919.6" r="3"/>
<circle cx="971.9" cy="921.8" r="3"/>
<circle cx="986.4" cy="921.4" r="3"/>
<circle cx="993.7" cy="921.4" r="3"/>
<circle cx="965.2" cy="923.6" r="3"/>
<circle cx="964.6" cy="930.3" r="3"/>
<circle cx="971.9" cy="931" r="3"/>
<circle cx="971.9" cy="938.1" r="3"/>
<circle cx="979.3" cy="940.4" r="3"/>
<circle cx="971.9" cy="944.8" r="3"/>
<circle cx="986.4" cy="944.8" r="3"/>
<circle cx="975.6" cy="957.5" r="3"/>
<circle cx="975.6" cy="980.5" r="3"/>
<circle cx="975.6" cy="988.7" r="3"/>
</g>
<g fill="#f48080" stroke="#2e0c0c" stroke-width="1.2">
<circle cx="1038.4" cy="852.4" r="3"/>
<circle cx="1038.4" cy="863" r="3"/>
<circle cx="1038.4" cy="875.6" r="3"/>
<circle cx="1032.5" cy="888.1" r="3"/>
<circle cx="1044.4" cy="888.1" r="3"/>
<circle cx="1056.4" cy="896.4" r="3"/>
<circle cx="1044.4" cy="898.9" r="3"/>
<circle cx="1020.7" cy="902.8" r="3"/>
<circle cx="1032.5" cy="904.3" r="3"/>
<circle cx="1044.4" cy="904.6" r="3"/>
<circle cx="1032.5" cy="911.6" r="3"/>
<circle cx="1044.4" cy="913.2" r="3"/>
<circle cx="1032.5" cy="924.2" r="3"/>
<circle cx="1020.7" cy="927.9" r="3"/>
<circle cx="1044.4" cy="930" r="3"/>
<circle cx="1032.5" cy="932.2" r="3"/>
<circle cx="1032.5" cy="938.3" r="3"/>
<circle cx="1056.4" cy="940.5" r="3"/>
<circle cx="1044.4" cy="943" r="3"/>
<circle cx="1038.4" cy="948.7" r="3"/>
<circle cx="1038.4" cy="957.5" r="3"/>
<circle cx="1038.4" cy="991.2" r="3"/>
</g>
<g fill="#1e90ea" stroke="#06182c" stroke-width="1.2">
<circle cx="1143.6" cy="840.1" r="3"/>
<circle cx="1143.6" cy="865.1" r="3"/>
<circle cx="1143.6" cy="890.2" r="3"/>
<circle cx="1143.6" cy="896.3" r="3"/>
<circle cx="1125.5" cy="903" r="3"/>
<circle cx="1134.4" cy="902.8" r="3"/>
<circle cx="1152.4" cy="902.8" r="3"/>
<circle cx="1161.3" cy="905" r="3"/>
<circle cx="1143.6" cy="906.7" r="3"/>
<circle cx="1143.6" cy="913.2" r="3"/>
<circle cx="1125.5" cy="915.7" r="3"/>
<circle cx="1134.4" cy="915.7" r="3"/>
<circle cx="1161.3" cy="917.5" r="3"/>
<circle cx="1134.4" cy="923.4" r="3"/>
<circle cx="1152.4" cy="921.4" r="3"/>
<circle cx="1134.4" cy="930.3" r="3"/>
<circle cx="1152.4" cy="928.5" r="3"/>
<circle cx="1138.9" cy="941" r="3"/>
<circle cx="1143.6" cy="948.7" r="3"/>
<circle cx="1138.9" cy="955.4" r="3"/>
<circle cx="1147.9" cy="955.4" r="3"/>
<circle cx="1143.6" cy="963.7" r="3"/>
<circle cx="1143.6" cy="970.1" r="3"/>
<circle cx="1152.4" cy="972" r="3"/>
<circle cx="1161.3" cy="972" r="3"/>
<circle cx="1125.8" cy="974.2" r="3"/>
<circle cx="1143.6" cy="976.5" r="3"/>
<circle cx="1138.9" cy="982.4" r="3"/>
<circle cx="1147.9" cy="984.6" r="3"/>
<circle cx="1143.6" cy="993" r="3"/>
</g>
<g fill="#f48080" stroke="#2e0c0c" stroke-width="1.2">
<circle cx="1206.8" cy="787.7" r="3"/>
<circle cx="1202" cy="898.5" r="3"/>
<circle cx="1210.9" cy="902.8" r="3"/>
<circle cx="1202" cy="911.1" r="3"/>
<circle cx="1210.9" cy="915.3" r="3"/>
<circle cx="1188.5" cy="921.8" r="3"/>
<circle cx="1224" cy="921.8" r="3"/>
<circle cx="1215.5" cy="924.2" r="3"/>
<circle cx="1197.3" cy="930.1" r="3"/>
<circle cx="1215.5" cy="934" r="3"/>
<circle cx="1224" cy="938.6" r="3"/>
<circle cx="1206.3" cy="943" r="3"/>
<circle cx="1197.3" cy="944.8" r="3"/>
<circle cx="1215.5" cy="944.8" r="3"/>
<circle cx="1206.3" cy="955.2" r="3"/>
<circle cx="1188.5" cy="959.5" r="3"/>
<circle cx="1224" cy="959.5" r="3"/>
<circle cx="1206.3" cy="961.6" r="3"/>
<circle cx="1215.5" cy="961.6" r="3"/>
<circle cx="1206.3" cy="984.6" r="3"/>
</g>
<line x1="975.95" y1="913.2" x2="975.95" y2="929.5" stroke="#000" stroke-width="5.1"/>
<line x1="966" y1="913.2" x2="985.9" y2="913.2" stroke="#000" stroke-width="4.7" stroke-linecap="round"/>
<line x1="966" y1="929.5" x2="985.9" y2="929.5" stroke="#000" stroke-width="4.7" stroke-linecap="round"/>
<line x1="1038.9" y1="908.7" x2="1038.9" y2="922.6" stroke="#000" stroke-width="5.1"/>
<line x1="1028.95" y1="908.7" x2="1048.85" y2="908.7" stroke="#000" stroke-width="4.7" stroke-linecap="round"/>
<line x1="1028.95" y1="922.6" x2="1048.85" y2="922.6" stroke="#000" stroke-width="4.7" stroke-linecap="round"/>
<line x1="1143.4" y1="926.1" x2="1143.4" y2="939.5" stroke="#000" stroke-width="5.1"/>
<line x1="1133.45" y1="926.1" x2="1153.35" y2="926.1" stroke="#000" stroke-width="4.7" stroke-linecap="round"/>
<line x1="1133.45" y1="939.5" x2="1153.35" y2="939.5" stroke="#000" stroke-width="4.7" stroke-linecap="round"/>
<line x1="1206.4" y1="921.4" x2="1206.4" y2="937.7" stroke="#000" stroke-width="5.1"/>
<line x1="1196.45" y1="921.4" x2="1216.35" y2="921.4" stroke="#000" stroke-width="4.7" stroke-linecap="round"/>
<line x1="1196.45" y1="937.7" x2="1216.35" y2="937.7" stroke="#000" stroke-width="4.7" stroke-linecap="round"/>
<text transform="translate(1004.2 1047) scale(0.960 1)" font-size="30.8" font-weight="normal" text-anchor="middle" fill="#000" stroke="#000" stroke-width="0.25" stroke-linejoin="round">Young</text>
<text transform="translate(1175.6 1047) scale(0.960 1)" font-size="30.8" font-weight="normal" text-anchor="middle" fill="#000" stroke="#000" stroke-width="0.25" stroke-linejoin="round">Aged</text>
<text transform="translate(838.8 850.5) rotate(-90) scale(0.934 1)" font-size="32" font-weight="bold" text-anchor="middle" fill="#000" stroke="#000" stroke-width="0.3" stroke-linejoin="round">Max Firing Rate (Hz)</text>
<text transform="translate(782.2 659.2) scale(1.035 1)" font-size="61" font-weight="bold" text-anchor="start" fill="#2b2b2b">e</text>
</g>
<g id="panel-f">
<rect x="1443.7" y="955.4" width="37.2" height="56" fill="#80caff"/>
<path d="M1443.7 1011.4V957.8H1480.9V1011.4" fill="none" stroke="#000" stroke-width="4.8"/>
<rect x="1506.2" y="955.7" width="37.1" height="55.7" fill="#ffbfbf"/>
<path d="M1506.2 1011.4V958.1H1543.3V1011.4" fill="none" stroke="#000" stroke-width="4.8"/>
<rect x="1610.2" y="961.3" width="37" height="50.1" fill="#80caff"/>
<path d="M1610.2 1011.4V963.7H1647.2V1011.4" fill="none" stroke="#000" stroke-width="4.8"/>
<rect x="1672.6" y="955.2" width="37.1" height="56.2" fill="#ffbfbf"/>
<path d="M1672.6 1011.4V957.6H1709.7V1011.4" fill="none" stroke="#000" stroke-width="4.8"/>
<line x1="1576.7" y1="699" x2="1576.7" y2="1012.7" stroke="#000" stroke-width="3.4" stroke-linecap="round" stroke-dasharray="0 6.273"/>
<line x1="1420.9" y1="697.25" x2="1420.9" y2="1013.15" stroke="#000" stroke-width="3.5"/>
<line x1="1407.6" y1="1011.4" x2="1732.3" y2="1011.4" stroke="#000" stroke-width="3.5"/>
<text transform="translate(1402.1 1022.22) scale(0.930 1)" font-size="32" font-weight="bold" text-anchor="end" fill="#000" stroke="#000" stroke-width="0.3" stroke-linejoin="round">0</text>
<line x1="1407.6" y1="907.3" x2="1420.9" y2="907.3" stroke="#000" stroke-width="3.5"/>
<text transform="translate(1402.1 918.12) scale(0.930 1)" font-size="32" font-weight="bold" text-anchor="end" fill="#000" stroke="#000" stroke-width="0.3" stroke-linejoin="round">10</text>
<line x1="1407.6" y1="803.2" x2="1420.9" y2="803.2" stroke="#000" stroke-width="3.5"/>
<text transform="translate(1402.1 814.02) scale(0.930 1)" font-size="32" font-weight="bold" text-anchor="end" fill="#000" stroke="#000" stroke-width="0.3" stroke-linejoin="round">20</text>
<line x1="1407.6" y1="699" x2="1420.9" y2="699" stroke="#000" stroke-width="3.5"/>
<text transform="translate(1402.1 709.82) scale(0.930 1)" font-size="32" font-weight="bold" text-anchor="end" fill="#000" stroke="#000" stroke-width="0.3" stroke-linejoin="round">30</text>
<g fill="#1e90ea" stroke="#06182c" stroke-width="1.2">
<circle cx="1462.2" cy="860.6" r="3"/>
<circle cx="1462.2" cy="879.3" r="3"/>
<circle cx="1456.3" cy="912.4" r="3"/>
<circle cx="1468.2" cy="917.2" r="3"/>
<circle cx="1462.2" cy="925.5" r="3"/>
<circle cx="1462.2" cy="934.6" r="3"/>
<circle cx="1444.4" cy="957.5" r="3"/>
<circle cx="1480.2" cy="956.1" r="3"/>
<circle cx="1456.3" cy="958.5" r="3"/>
<circle cx="1468.2" cy="960.3" r="3"/>
<circle cx="1444.4" cy="965.9" r="3"/>
<circle cx="1468.2" cy="971.6" r="3"/>
<circle cx="1444.4" cy="974.2" r="3"/>
<circle cx="1456.3" cy="976.3" r="3"/>
<circle cx="1444.4" cy="980.8" r="3"/>
<circle cx="1480.2" cy="986.7" r="3"/>
<circle cx="1456.3" cy="989.1" r="3"/>
<circle cx="1468.2" cy="988.1" r="3"/>
<circle cx="1444.4" cy="990.3" r="3"/>
<circle cx="1480.2" cy="993.6" r="3"/>
<circle cx="1468.2" cy="994.9" r="3"/>
<circle cx="1444.4" cy="996.1" r="3"/>
</g>
<g fill="#f48080" stroke="#2e0c0c" stroke-width="1.2">
<circle cx="1524.3" cy="828.7" r="3"/>
<circle cx="1524.3" cy="839.4" r="3"/>
<circle cx="1524.3" cy="898.3" r="3"/>
<circle cx="1527.3" cy="905.9" r="3"/>
<circle cx="1521.6" cy="909.8" r="3"/>
<circle cx="1524.3" cy="923" r="3"/>
<circle cx="1522.1" cy="938.7" r="3"/>
<circle cx="1524.3" cy="971.1" r="3"/>
<circle cx="1524.3" cy="978.5" r="3"/>
<circle cx="1511.8" cy="984.8" r="3"/>
<circle cx="1506.9" cy="986.1" r="3"/>
<circle cx="1537.1" cy="987.9" r="3"/>
<circle cx="1527.1" cy="988.7" r="3"/>
<circle cx="1512" cy="991.8" r="3"/>
<circle cx="1516.9" cy="992.5" r="3"/>
<circle cx="1521.8" cy="991.8" r="3"/>
<circle cx="1532" cy="991.8" r="3"/>
<circle cx="1542.3" cy="992.5" r="3"/>
<circle cx="1506.9" cy="994" r="3"/>
<circle cx="1527.1" cy="995.8" r="3"/>
<circle cx="1537.1" cy="994.9" r="3"/>
</g>
<g fill="#1e90ea" stroke="#06182c" stroke-width="1.2">
<circle cx="1628.7" cy="760.2" r="3"/>
<circle cx="1628.7" cy="773.2" r="3"/>
<circle cx="1628.6" cy="845.6" r="3"/>
<circle cx="1628.6" cy="922.8" r="3"/>
<circle cx="1628.6" cy="934.6" r="3"/>
<circle cx="1628.6" cy="944.2" r="3"/>
<circle cx="1633.1" cy="954.2" r="3"/>
<circle cx="1623.9" cy="975" r="3"/>
<circle cx="1637.4" cy="976.5" r="3"/>
<circle cx="1610.8" cy="978.5" r="3"/>
<circle cx="1619.6" cy="980.8" r="3"/>
<circle cx="1641.9" cy="982" r="3"/>
<circle cx="1615.4" cy="984.2" r="3"/>
<circle cx="1628.6" cy="983.6" r="3"/>
<circle cx="1637.4" cy="983.6" r="3"/>
<circle cx="1646.3" cy="985.7" r="3"/>
<circle cx="1619.6" cy="987.3" r="3"/>
<circle cx="1641.9" cy="988.7" r="3"/>
<circle cx="1615.4" cy="992.8" r="3"/>
<circle cx="1623.9" cy="993.4" r="3"/>
<circle cx="1632.9" cy="994.6" r="3"/>
<circle cx="1610.8" cy="996.1" r="3"/>
<circle cx="1619.6" cy="995.6" r="3"/>
<circle cx="1641.9" cy="995.6" r="3"/>
<circle cx="1637.4" cy="997.7" r="3"/>
<circle cx="1646.3" cy="997.7" r="3"/>
<circle cx="1628.6" cy="999.2" r="3"/>
</g>
<g fill="#f48080" stroke="#2e0c0c" stroke-width="1.2">
<circle cx="1691.2" cy="794.9" r="3"/>
<circle cx="1691.2" cy="821.2" r="3"/>
<circle cx="1690.9" cy="920.8" r="3"/>
<circle cx="1690.9" cy="933.7" r="3"/>
<circle cx="1681.8" cy="947.5" r="3"/>
<circle cx="1708.7" cy="963.7" r="3"/>
<circle cx="1673.3" cy="969.5" r="3"/>
<circle cx="1699.8" cy="969.9" r="3"/>
<circle cx="1708.7" cy="972" r="3"/>
<circle cx="1681.8" cy="974.4" r="3"/>
<circle cx="1690.9" cy="974.4" r="3"/>
<circle cx="1699.8" cy="978.7" r="3"/>
<circle cx="1673.3" cy="985.7" r="3"/>
<circle cx="1708.7" cy="985.1" r="3"/>
<circle cx="1681.8" cy="991" r="3"/>
<circle cx="1690.9" cy="991.8" r="3"/>
<circle cx="1699.8" cy="991" r="3"/>
<circle cx="1690.9" cy="1010.5" r="3"/>
</g>
<line x1="1462.3" y1="949.7" x2="1462.3" y2="965.9" stroke="#000" stroke-width="5.1"/>
<line x1="1452.35" y1="949.7" x2="1472.25" y2="949.7" stroke="#000" stroke-width="4.7" stroke-linecap="round"/>
<line x1="1452.35" y1="965.9" x2="1472.25" y2="965.9" stroke="#000" stroke-width="4.7" stroke-linecap="round"/>
<line x1="1524.75" y1="944.8" x2="1524.75" y2="966.8" stroke="#000" stroke-width="5.1"/>
<line x1="1514.8" y1="944.8" x2="1534.7" y2="944.8" stroke="#000" stroke-width="4.7" stroke-linecap="round"/>
<line x1="1514.8" y1="966.8" x2="1534.7" y2="966.8" stroke="#000" stroke-width="4.7" stroke-linecap="round"/>
<line x1="1628.7" y1="951.2" x2="1628.7" y2="972" stroke="#000" stroke-width="5.1"/>
<line x1="1618.75" y1="951.2" x2="1638.65" y2="951.2" stroke="#000" stroke-width="4.7" stroke-linecap="round"/>
<line x1="1618.75" y1="972" x2="1638.65" y2="972" stroke="#000" stroke-width="4.7" stroke-linecap="round"/>
<line x1="1691.15" y1="944.1" x2="1691.15" y2="967.1" stroke="#000" stroke-width="5.1"/>
<line x1="1681.2" y1="944.1" x2="1701.1" y2="944.1" stroke="#000" stroke-width="4.7" stroke-linecap="round"/>
<line x1="1681.2" y1="967.1" x2="1701.1" y2="967.1" stroke="#000" stroke-width="4.7" stroke-linecap="round"/>
<text transform="translate(1493 1047) scale(0.960 1)" font-size="30.8" font-weight="normal" text-anchor="middle" fill="#000" stroke="#000" stroke-width="0.25" stroke-linejoin="round">Young</text>
<text transform="translate(1662.7 1047) scale(0.960 1)" font-size="30.8" font-weight="normal" text-anchor="middle" fill="#000" stroke="#000" stroke-width="0.25" stroke-linejoin="round">Aged</text>
<text transform="translate(1341 851.3) rotate(-90) scale(0.934 1)" font-size="32" font-weight="bold" text-anchor="middle" fill="#000" stroke="#000" stroke-width="0.3" stroke-linejoin="round">Accommodation</text>
<text transform="translate(1293.5 659.2) scale(1.125 1)" font-size="61" font-weight="bold" text-anchor="start" fill="#2b2b2b">f</text>
</g>
<g id="panel-g">
<rect x="412.3" y="1188" width="37.2" height="233.6" fill="#80caff"/>
<path d="M412.3 1188V1419.2H449.5V1188" fill="none" stroke="#000" stroke-width="4.8"/>
<rect x="474.8" y="1188" width="36.7" height="228.6" fill="#ffbfbf"/>
<path d="M474.8 1188V1414.2H511.5V1188" fill="none" stroke="#000" stroke-width="4.8"/>
<rect x="578.7" y="1188" width="37" height="233.1" fill="#80caff"/>
<path d="M578.7 1188V1418.7H615.7V1188" fill="none" stroke="#000" stroke-width="4.8"/>
<rect x="641.2" y="1188" width="37.3" height="228.9" fill="#ffbfbf"/>
<path d="M641.2 1188V1414.5H678.5V1188" fill="none" stroke="#000" stroke-width="4.8"/>
<line x1="545.3" y1="1188" x2="545.3" y2="1494.84" stroke="#000" stroke-width="3.4" stroke-linecap="round" stroke-dasharray="0 6.261"/>
<line x1="389.4" y1="1186.25" x2="389.4" y2="1499.8" stroke="#000" stroke-width="3.5"/>
<line x1="376.1" y1="1188" x2="701.5" y2="1188" stroke="#000" stroke-width="3.5"/>
<text transform="translate(370.6 1198.82) scale(0.930 1)" font-size="32" font-weight="bold" text-anchor="end" fill="#000" stroke="#000" stroke-width="0.3" stroke-linejoin="round">0</text>
<line x1="376.1" y1="1257.3" x2="389.4" y2="1257.3" stroke="#000" stroke-width="3.5"/>
<text transform="translate(370.6 1268.12) scale(0.930 1)" font-size="32" font-weight="bold" text-anchor="end" fill="#000" stroke="#000" stroke-width="0.3" stroke-linejoin="round">-20</text>
<line x1="376.1" y1="1326.6" x2="389.4" y2="1326.6" stroke="#000" stroke-width="3.5"/>
<text transform="translate(370.6 1337.42) scale(0.930 1)" font-size="32" font-weight="bold" text-anchor="end" fill="#000" stroke="#000" stroke-width="0.3" stroke-linejoin="round">-40</text>
<line x1="376.1" y1="1395.9" x2="389.4" y2="1395.9" stroke="#000" stroke-width="3.5"/>
<text transform="translate(370.6 1406.72) scale(0.930 1)" font-size="32" font-weight="bold" text-anchor="end" fill="#000" stroke="#000" stroke-width="0.3" stroke-linejoin="round">-60</text>
<line x1="376.1" y1="1465.1" x2="389.4" y2="1465.1" stroke="#000" stroke-width="3.5"/>
<text transform="translate(370.6 1475.92) scale(0.930 1)" font-size="32" font-weight="bold" text-anchor="end" fill="#000" stroke="#000" stroke-width="0.3" stroke-linejoin="round">-80</text>
<g fill="#1e90ea" stroke="#06182c" stroke-width="1.2">
<circle cx="439.7" cy="1398.9" r="3"/>
<circle cx="426.4" cy="1403.1" r="3"/>
<circle cx="430.9" cy="1403.9" r="3"/>
<circle cx="439.7" cy="1408.2" r="3"/>
<circle cx="421.9" cy="1410.3" r="3"/>
<circle cx="426.4" cy="1410.3" r="3"/>
<circle cx="430.9" cy="1411.3" r="3"/>
<circle cx="435.4" cy="1412.6" r="3"/>
<circle cx="413.4" cy="1415.3" r="3"/>
<circle cx="439.7" cy="1416.1" r="3"/>
<circle cx="448.7" cy="1418.2" r="3"/>
<circle cx="413.4" cy="1422.7" r="3"/>
<circle cx="444.9" cy="1420" r="3"/>
<circle cx="444.3" cy="1426.5" r="3"/>
<circle cx="421.9" cy="1428.8" r="3"/>
<circle cx="426.4" cy="1430.4" r="3"/>
<circle cx="430.9" cy="1430" r="3"/>
<circle cx="435.4" cy="1426.9" r="3"/>
<circle cx="439.7" cy="1426.1" r="3"/>
<circle cx="435.4" cy="1436.2" r="3"/>
<circle cx="430.9" cy="1447.2" r="3"/>
<circle cx="430.9" cy="1467.5" r="3"/>
<circle cx="417.5" cy="1423" r="3"/>
<circle cx="426.4" cy="1416.9" r="3"/>
<circle cx="430.9" cy="1417.6" r="3"/>
</g>
<g fill="#f48080" stroke="#2e0c0c" stroke-width="1.2">
<circle cx="495" cy="1396.4" r="3"/>
<circle cx="499.2" cy="1396.8" r="3"/>
<circle cx="487.1" cy="1399.1" r="3"/>
<circle cx="491.3" cy="1402.2" r="3"/>
<circle cx="499.2" cy="1402.6" r="3"/>
<circle cx="495" cy="1406" r="3"/>
<circle cx="490.6" cy="1409.1" r="3"/>
<circle cx="499.2" cy="1409.1" r="3"/>
<circle cx="475.5" cy="1410.3" r="3"/>
<circle cx="479.7" cy="1412.2" r="3"/>
<circle cx="487.1" cy="1411.8" r="3"/>
<circle cx="506.8" cy="1413.4" r="3"/>
<circle cx="479" cy="1421.7" r="3"/>
<circle cx="506.8" cy="1422.7" r="3"/>
<circle cx="483.2" cy="1423" r="3"/>
<circle cx="490.6" cy="1422.3" r="3"/>
<circle cx="499.2" cy="1424.6" r="3"/>
<circle cx="495" cy="1426.5" r="3"/>
<circle cx="503.3" cy="1427.3" r="3"/>
<circle cx="483.2" cy="1428.5" r="3"/>
<circle cx="490.6" cy="1428.1" r="3"/>
<circle cx="499.2" cy="1430.4" r="3"/>
<circle cx="495" cy="1432.3" r="3"/>
<circle cx="487.1" cy="1435.4" r="3"/>
<circle cx="495" cy="1413" r="3"/>
<circle cx="499.2" cy="1413.8" r="3"/>
</g>
<g fill="#1e90ea" stroke="#06182c" stroke-width="1.2">
<circle cx="596.9" cy="1361.6" r="3"/>
<circle cx="596.9" cy="1386.3" r="3"/>
<circle cx="604.8" cy="1397.8" r="3"/>
<circle cx="594.3" cy="1403.3" r="3"/>
<circle cx="599.5" cy="1405.4" r="3"/>
<circle cx="604.8" cy="1407.4" r="3"/>
<circle cx="599.5" cy="1411.4" r="3"/>
<circle cx="579.4" cy="1417.8" r="3"/>
<circle cx="615" cy="1419.2" r="3"/>
<circle cx="583.9" cy="1422.7" r="3"/>
<circle cx="609.8" cy="1420.7" r="3"/>
<circle cx="579.4" cy="1427.7" r="3"/>
<circle cx="615" cy="1425.4" r="3"/>
<circle cx="583.9" cy="1431.5" r="3"/>
<circle cx="589.3" cy="1429.8" r="3"/>
<circle cx="594.3" cy="1430.4" r="3"/>
<circle cx="599.5" cy="1429.1" r="3"/>
<circle cx="609.8" cy="1430.9" r="3"/>
<circle cx="594.3" cy="1436.2" r="3"/>
<circle cx="589.3" cy="1439.1" r="3"/>
<circle cx="599.5" cy="1439.1" r="3"/>
<circle cx="604.8" cy="1437.1" r="3"/>
<circle cx="594.3" cy="1446.6" r="3"/>
<circle cx="599.5" cy="1446.5" r="3"/>
</g>
<g fill="#f48080" stroke="#2e0c0c" stroke-width="1.2">
<circle cx="659.5" cy="1381.1" r="3"/>
<circle cx="659.5" cy="1389.4" r="3"/>
<circle cx="665.2" cy="1398.7" r="3"/>
<circle cx="659.5" cy="1402" r="3"/>
<circle cx="653.3" cy="1403.3" r="3"/>
<circle cx="659.5" cy="1409.9" r="3"/>
<circle cx="647.7" cy="1413.4" r="3"/>
<circle cx="641.9" cy="1418" r="3"/>
<circle cx="677.4" cy="1417.8" r="3"/>
<circle cx="647.3" cy="1423" r="3"/>
<circle cx="671.6" cy="1422.9" r="3"/>
<circle cx="653.3" cy="1426.9" r="3"/>
<circle cx="659.5" cy="1426.1" r="3"/>
<circle cx="665.2" cy="1427.3" r="3"/>
<circle cx="659.5" cy="1435.8" r="3"/>
<circle cx="653.3" cy="1442.8" r="3"/>
<circle cx="665.2" cy="1442" r="3"/>
<circle cx="671.6" cy="1414.5" r="3"/>
</g>
<line x1="430.9" y1="1418.8" x2="430.9" y2="1423.4" stroke="#000" stroke-width="5.1"/>
<line x1="420.95" y1="1418.8" x2="440.85" y2="1418.8" stroke="#000" stroke-width="4.7" stroke-linecap="round"/>
<line x1="420.95" y1="1423.4" x2="440.85" y2="1423.4" stroke="#000" stroke-width="4.7" stroke-linecap="round"/>
<line x1="493.15" y1="1414.5" x2="493.15" y2="1418.8" stroke="#000" stroke-width="5.1"/>
<line x1="483.2" y1="1414.5" x2="503.1" y2="1414.5" stroke="#000" stroke-width="4.7" stroke-linecap="round"/>
<line x1="483.2" y1="1418.8" x2="503.1" y2="1418.8" stroke="#000" stroke-width="4.7" stroke-linecap="round"/>
<line x1="597.2" y1="1417.2" x2="597.2" y2="1424.2" stroke="#000" stroke-width="5.1"/>
<line x1="587.25" y1="1417.2" x2="607.15" y2="1417.2" stroke="#000" stroke-width="4.7" stroke-linecap="round"/>
<line x1="587.25" y1="1424.2" x2="607.15" y2="1424.2" stroke="#000" stroke-width="4.7" stroke-linecap="round"/>
<line x1="659.85" y1="1413.4" x2="659.85" y2="1420" stroke="#000" stroke-width="5.1"/>
<line x1="649.9" y1="1413.4" x2="669.8" y2="1413.4" stroke="#000" stroke-width="4.7" stroke-linecap="round"/>
<line x1="649.9" y1="1420" x2="669.8" y2="1420" stroke="#000" stroke-width="4.7" stroke-linecap="round"/>
<text transform="translate(470.9 1534.4) scale(0.960 1)" font-size="30.8" font-weight="normal" text-anchor="middle" fill="#000" stroke="#000" stroke-width="0.25" stroke-linejoin="round">Young</text>
<text transform="translate(641.8 1534.4) scale(0.960 1)" font-size="30.8" font-weight="normal" text-anchor="middle" fill="#000" stroke="#000" stroke-width="0.25" stroke-linejoin="round">Aged</text>
<text transform="translate(304 1339.3) rotate(-90) scale(0.934 1)" font-size="31.7" font-weight="bold" text-anchor="middle" fill="#000" stroke="#000" stroke-width="0.3" stroke-linejoin="round">RMP (mV)</text>
<text transform="translate(248.8 1165.2) scale(1.007 1)" font-size="61" font-weight="bold" text-anchor="start" fill="#2b2b2b">g</text>
</g>
<g id="panel-h">
<rect x="953" y="1347" width="37.1" height="160.5" fill="#80caff"/>
<path d="M953 1507.5V1349.4H990.1V1507.5" fill="none" stroke="#000" stroke-width="4.8"/>
<rect x="1015.5" y="1332.4" width="37.1" height="175.1" fill="#ffbfbf"/>
<path d="M1015.5 1507.5V1334.8H1052.6V1507.5" fill="none" stroke="#000" stroke-width="4.8"/>
<rect x="1120" y="1353.3" width="37.1" height="154.2" fill="#80caff"/>
<path d="M1120 1507.5V1355.7H1157.1V1507.5" fill="none" stroke="#000" stroke-width="4.8"/>
<rect x="1182.5" y="1344.8" width="37.4" height="162.7" fill="#ffbfbf"/>
<path d="M1182.5 1507.5V1347.2H1219.9V1507.5" fill="none" stroke="#000" stroke-width="4.8"/>
<line x1="1086.2" y1="1193.2" x2="1086.2" y2="1508.81" stroke="#000" stroke-width="3.4" stroke-linecap="round" stroke-dasharray="0 6.311"/>
<line x1="930" y1="1191.45" x2="930" y2="1509.25" stroke="#000" stroke-width="3.5"/>
<line x1="916.1" y1="1507.5" x2="1242.4" y2="1507.5" stroke="#000" stroke-width="3.5"/>
<text transform="translate(910.6 1518.32) scale(0.930 1)" font-size="32" font-weight="bold" text-anchor="end" fill="#000" stroke="#000" stroke-width="0.3" stroke-linejoin="round">0</text>
<line x1="916.1" y1="1428.9" x2="930" y2="1428.9" stroke="#000" stroke-width="3.5"/>
<text transform="translate(910.6 1439.72) scale(0.930 1)" font-size="32" font-weight="bold" text-anchor="end" fill="#000" stroke="#000" stroke-width="0.3" stroke-linejoin="round">20</text>
<line x1="916.1" y1="1350.4" x2="930" y2="1350.4" stroke="#000" stroke-width="3.5"/>
<text transform="translate(910.6 1361.22) scale(0.930 1)" font-size="32" font-weight="bold" text-anchor="end" fill="#000" stroke="#000" stroke-width="0.3" stroke-linejoin="round">40</text>
<line x1="916.1" y1="1271.8" x2="930" y2="1271.8" stroke="#000" stroke-width="3.5"/>
<text transform="translate(910.6 1282.62) scale(0.930 1)" font-size="32" font-weight="bold" text-anchor="end" fill="#000" stroke="#000" stroke-width="0.3" stroke-linejoin="round">60</text>
<line x1="916.1" y1="1193.2" x2="930" y2="1193.2" stroke="#000" stroke-width="3.5"/>
<text transform="translate(910.6 1204.02) scale(0.930 1)" font-size="32" font-weight="bold" text-anchor="end" fill="#000" stroke="#000" stroke-width="0.3" stroke-linejoin="round">80</text>
<g fill="#1e90ea" stroke="#06182c" stroke-width="1.2">
<circle cx="971.4" cy="1283.9" r="3"/>
<circle cx="967.7" cy="1291.8" r="3"/>
<circle cx="974.9" cy="1291.8" r="3"/>
<circle cx="960.6" cy="1307.6" r="3"/>
<circle cx="981.9" cy="1307.3" r="3"/>
<circle cx="989.4" cy="1307.6" r="3"/>
<circle cx="967.7" cy="1311.4" r="3"/>
<circle cx="974.9" cy="1311.4" r="3"/>
<circle cx="960.6" cy="1315.2" r="3"/>
<circle cx="967.7" cy="1323.2" r="3"/>
<circle cx="974.9" cy="1327.2" r="3"/>
<circle cx="967.7" cy="1331" r="3"/>
<circle cx="953.5" cy="1358.5" r="3"/>
<circle cx="960.6" cy="1358.5" r="3"/>
<circle cx="974.9" cy="1358.5" r="3"/>
<circle cx="981.9" cy="1358.5" r="3"/>
<circle cx="989.4" cy="1358.5" r="3"/>
<circle cx="967.7" cy="1362.4" r="3"/>
<circle cx="967.7" cy="1374" r="3"/>
<circle cx="974.9" cy="1374" r="3"/>
<circle cx="981.9" cy="1378.1" r="3"/>
<circle cx="967.7" cy="1381.9" r="3"/>
<circle cx="974.9" cy="1381.9" r="3"/>
<circle cx="967.7" cy="1393.7" r="3"/>
<circle cx="974.9" cy="1393.7" r="3"/>
<circle cx="971.4" cy="1460.5" r="3"/>
</g>
<g fill="#f48080" stroke="#2e0c0c" stroke-width="1.2">
<circle cx="1043.1" cy="1272.1" r="3"/>
<circle cx="1034.3" cy="1276.2" r="3"/>
<circle cx="1029.3" cy="1283.9" r="3"/>
<circle cx="1038.5" cy="1283.9" r="3"/>
<circle cx="1034.3" cy="1291.8" r="3"/>
<circle cx="1034.3" cy="1303.5" r="3"/>
<circle cx="1043.1" cy="1303.5" r="3"/>
<circle cx="1016.2" cy="1307.6" r="3"/>
<circle cx="1025" cy="1307.6" r="3"/>
<circle cx="1052" cy="1307.6" r="3"/>
<circle cx="1043.1" cy="1311.4" r="3"/>
<circle cx="1034.3" cy="1319.5" r="3"/>
<circle cx="1016.2" cy="1335.1" r="3"/>
<circle cx="1043.1" cy="1335.1" r="3"/>
<circle cx="1025" cy="1347" r="3"/>
<circle cx="1034.3" cy="1347" r="3"/>
<circle cx="1016.2" cy="1350.6" r="3"/>
<circle cx="1043.1" cy="1350.6" r="3"/>
<circle cx="1052" cy="1350.6" r="3"/>
<circle cx="1029.3" cy="1358.5" r="3"/>
<circle cx="1047.6" cy="1358.5" r="3"/>
<circle cx="1020.8" cy="1362.4" r="3"/>
<circle cx="1038.5" cy="1362.4" r="3"/>
<circle cx="1029.3" cy="1374" r="3"/>
<circle cx="1038.5" cy="1374" r="3"/>
<circle cx="1034.3" cy="1381.9" r="3"/>
<circle cx="1034.3" cy="1413.3" r="3"/>
</g>
<g fill="#1e90ea" stroke="#06182c" stroke-width="1.2">
<circle cx="1138.4" cy="1299.6" r="3"/>
<circle cx="1132.4" cy="1307.6" r="3"/>
<circle cx="1144.2" cy="1307.6" r="3"/>
<circle cx="1144.2" cy="1315.5" r="3"/>
<circle cx="1120.5" cy="1319.5" r="3"/>
<circle cx="1156.4" cy="1319.5" r="3"/>
<circle cx="1144.2" cy="1323.3" r="3"/>
<circle cx="1120.5" cy="1327.2" r="3"/>
<circle cx="1132.4" cy="1327.2" r="3"/>
<circle cx="1156.4" cy="1327.2" r="3"/>
<circle cx="1132.4" cy="1335.1" r="3"/>
<circle cx="1144.2" cy="1335.1" r="3"/>
<circle cx="1120.5" cy="1338.9" r="3"/>
<circle cx="1132.4" cy="1342.8" r="3"/>
<circle cx="1144.2" cy="1342.8" r="3"/>
<circle cx="1156.4" cy="1342.8" r="3"/>
<circle cx="1120.5" cy="1358.5" r="3"/>
<circle cx="1156.4" cy="1362.4" r="3"/>
<circle cx="1144.2" cy="1374" r="3"/>
<circle cx="1132.4" cy="1378.1" r="3"/>
<circle cx="1138.4" cy="1389.9" r="3"/>
<circle cx="1126.6" cy="1393.7" r="3"/>
<circle cx="1150.3" cy="1393.7" r="3"/>
<circle cx="1138.4" cy="1405.4" r="3"/>
<circle cx="1132.4" cy="1413.3" r="3"/>
<circle cx="1144.2" cy="1417.2" r="3"/>
<circle cx="1138.4" cy="1432.9" r="3"/>
</g>
<g fill="#f48080" stroke="#2e0c0c" stroke-width="1.2">
<circle cx="1201.3" cy="1299.6" r="3"/>
<circle cx="1201.3" cy="1307.6" r="3"/>
<circle cx="1205.8" cy="1319.5" r="3"/>
<circle cx="1201.3" cy="1323.3" r="3"/>
<circle cx="1183.2" cy="1331.3" r="3"/>
<circle cx="1201.3" cy="1331.3" r="3"/>
<circle cx="1214.6" cy="1331.3" r="3"/>
<circle cx="1219" cy="1331.3" r="3"/>
<circle cx="1187.8" cy="1335.1" r="3"/>
<circle cx="1192.3" cy="1334.4" r="3"/>
<circle cx="1196.3" cy="1335.1" r="3"/>
<circle cx="1205.5" cy="1335.1" r="3"/>
<circle cx="1210.1" cy="1334.4" r="3"/>
<circle cx="1201.3" cy="1362.4" r="3"/>
<circle cx="1196.3" cy="1366.2" r="3"/>
<circle cx="1201.3" cy="1370.3" r="3"/>
<circle cx="1201.3" cy="1385.8" r="3"/>
<circle cx="1201.3" cy="1405.4" r="3"/>
<circle cx="1201.3" cy="1413.3" r="3"/>
</g>
<line x1="971.55" y1="1338.9" x2="971.55" y2="1354.7" stroke="#000" stroke-width="5.1"/>
<line x1="961.6" y1="1338.9" x2="981.5" y2="1338.9" stroke="#000" stroke-width="4.7" stroke-linecap="round"/>
<line x1="961.6" y1="1354.7" x2="981.5" y2="1354.7" stroke="#000" stroke-width="4.7" stroke-linecap="round"/>
<line x1="1034.05" y1="1326.3" x2="1034.05" y2="1339.1" stroke="#000" stroke-width="5.1"/>
<line x1="1024.1" y1="1326.3" x2="1044" y2="1326.3" stroke="#000" stroke-width="4.7" stroke-linecap="round"/>
<line x1="1024.1" y1="1339.1" x2="1044" y2="1339.1" stroke="#000" stroke-width="4.7" stroke-linecap="round"/>
<line x1="1138.55" y1="1347" x2="1138.55" y2="1360.1" stroke="#000" stroke-width="5.1"/>
<line x1="1128.6" y1="1347" x2="1148.5" y2="1347" stroke="#000" stroke-width="4.7" stroke-linecap="round"/>
<line x1="1128.6" y1="1360.1" x2="1148.5" y2="1360.1" stroke="#000" stroke-width="4.7" stroke-linecap="round"/>
<line x1="1201.2" y1="1338.5" x2="1201.2" y2="1351.3" stroke="#000" stroke-width="5.1"/>
<line x1="1191.25" y1="1338.5" x2="1211.15" y2="1338.5" stroke="#000" stroke-width="4.7" stroke-linecap="round"/>
<line x1="1191.25" y1="1351.3" x2="1211.15" y2="1351.3" stroke="#000" stroke-width="4.7" stroke-linecap="round"/>
<text transform="translate(1003.3 1542.8) scale(0.960 1)" font-size="30.8" font-weight="normal" text-anchor="middle" fill="#000" stroke="#000" stroke-width="0.25" stroke-linejoin="round">Young</text>
<text transform="translate(1170.8 1542.8) scale(0.960 1)" font-size="30.8" font-weight="normal" text-anchor="middle" fill="#000" stroke="#000" stroke-width="0.25" stroke-linejoin="round">Aged</text>
<text transform="translate(859.8 1345) rotate(-90) scale(0.934 1)" font-size="32" font-weight="bold" text-anchor="middle" fill="#000" stroke="#000" stroke-width="0.3" stroke-linejoin="round">Max Firing Rate (Hz)</text>
<text transform="translate(780.3 1166.1) scale(0.990 1)" font-size="61" font-weight="bold" text-anchor="start" fill="#2b2b2b">h</text>
</g>
<g id="panel-i">
<rect x="1445.5" y="1444.2" width="37.1" height="64.5" fill="#80caff"/>
<path d="M1445.5 1508.7V1446.6H1482.6V1508.7" fill="none" stroke="#000" stroke-width="4.8"/>
<rect x="1508.5" y="1446.5" width="36.9" height="62.2" fill="#ffbfbf"/>
<path d="M1508.5 1508.7V1448.9H1545.4V1508.7" fill="none" stroke="#000" stroke-width="4.8"/>
<rect x="1612.8" y="1448.2" width="37.2" height="60.5" fill="#80caff"/>
<path d="M1612.8 1508.7V1450.6H1650V1508.7" fill="none" stroke="#000" stroke-width="4.8"/>
<rect x="1675.5" y="1443.1" width="37.1" height="65.6" fill="#ffbfbf"/>
<path d="M1675.5 1508.7V1445.5H1712.6V1508.7" fill="none" stroke="#000" stroke-width="4.8"/>
<line x1="1578.6" y1="1194.8" x2="1578.6" y2="1510.01" stroke="#000" stroke-width="3.4" stroke-linecap="round" stroke-dasharray="0 6.303"/>
<line x1="1423" y1="1193.05" x2="1423" y2="1510.45" stroke="#000" stroke-width="3.5"/>
<line x1="1409.7" y1="1508.7" x2="1736" y2="1508.7" stroke="#000" stroke-width="3.5"/>
<text transform="translate(1404.2 1519.52) scale(0.930 1)" font-size="32" font-weight="bold" text-anchor="end" fill="#000" stroke="#000" stroke-width="0.3" stroke-linejoin="round">0</text>
<line x1="1409.7" y1="1404.1" x2="1423" y2="1404.1" stroke="#000" stroke-width="3.5"/>
<text transform="translate(1404.2 1414.92) scale(0.930 1)" font-size="32" font-weight="bold" text-anchor="end" fill="#000" stroke="#000" stroke-width="0.3" stroke-linejoin="round">5</text>
<line x1="1409.7" y1="1299.4" x2="1423" y2="1299.4" stroke="#000" stroke-width="3.5"/>
<text transform="translate(1404.2 1310.22) scale(0.930 1)" font-size="32" font-weight="bold" text-anchor="end" fill="#000" stroke="#000" stroke-width="0.3" stroke-linejoin="round">10</text>
<line x1="1409.7" y1="1194.8" x2="1423" y2="1194.8" stroke="#000" stroke-width="3.5"/>
<text transform="translate(1404.2 1205.62) scale(0.930 1)" font-size="32" font-weight="bold" text-anchor="end" fill="#000" stroke="#000" stroke-width="0.3" stroke-linejoin="round">15</text>
<g fill="#1e90ea" stroke="#06182c" stroke-width="1.2">
<circle cx="1464.2" cy="1308.3" r="3"/>
<circle cx="1464.2" cy="1372.6" r="3"/>
<circle cx="1464.1" cy="1398.3" r="3"/>
<circle cx="1469.9" cy="1410.5" r="3"/>
<circle cx="1458.1" cy="1416.3" r="3"/>
<circle cx="1469.9" cy="1418.4" r="3"/>
<circle cx="1463.9" cy="1421.3" r="3"/>
<circle cx="1460.8" cy="1428.5" r="3"/>
<circle cx="1466.9" cy="1432.6" r="3"/>
<circle cx="1469.9" cy="1441.8" r="3"/>
<circle cx="1451.9" cy="1445.3" r="3"/>
<circle cx="1457.9" cy="1452.3" r="3"/>
<circle cx="1464.1" cy="1456.9" r="3"/>
<circle cx="1451.9" cy="1466.2" r="3"/>
<circle cx="1463.9" cy="1466.2" r="3"/>
<circle cx="1469.9" cy="1464.6" r="3"/>
<circle cx="1482.3" cy="1467.1" r="3"/>
<circle cx="1476.1" cy="1468.9" r="3"/>
<circle cx="1446.1" cy="1470.4" r="3"/>
<circle cx="1457.9" cy="1470.4" r="3"/>
<circle cx="1469.9" cy="1472.4" r="3"/>
<circle cx="1457.9" cy="1477.4" r="3"/>
<circle cx="1463.9" cy="1480.1" r="3"/>
<circle cx="1469.9" cy="1480.3" r="3"/>
<circle cx="1457.9" cy="1484.9" r="3"/>
</g>
<g fill="#f48080" stroke="#2e0c0c" stroke-width="1.2">
<circle cx="1526.5" cy="1389.5" r="3"/>
<circle cx="1526.5" cy="1415.9" r="3"/>
<circle cx="1530.2" cy="1423.8" r="3"/>
<circle cx="1544.5" cy="1425.2" r="3"/>
<circle cx="1509.2" cy="1431.4" r="3"/>
<circle cx="1515.9" cy="1431.8" r="3"/>
<circle cx="1523.1" cy="1432" r="3"/>
<circle cx="1537.2" cy="1430.6" r="3"/>
<circle cx="1544.5" cy="1432" r="3"/>
<circle cx="1530.2" cy="1436" r="3"/>
<circle cx="1537.2" cy="1437.6" r="3"/>
<circle cx="1509.2" cy="1438.5" r="3"/>
<circle cx="1515.9" cy="1439.1" r="3"/>
<circle cx="1544.5" cy="1442.1" r="3"/>
<circle cx="1515.9" cy="1453.4" r="3"/>
<circle cx="1522.9" cy="1455.7" r="3"/>
<circle cx="1537.2" cy="1453.8" r="3"/>
<circle cx="1530.2" cy="1458.5" r="3"/>
<circle cx="1523.1" cy="1463.5" r="3"/>
<circle cx="1515.9" cy="1465" r="3"/>
<circle cx="1530.2" cy="1465.4" r="3"/>
<circle cx="1537.2" cy="1462.5" r="3"/>
<circle cx="1515.9" cy="1471.8" r="3"/>
<circle cx="1537.2" cy="1471.2" r="3"/>
<circle cx="1530.2" cy="1473.1" r="3"/>
<circle cx="1530.2" cy="1480.5" r="3"/>
<circle cx="1523.1" cy="1486.3" r="3"/>
</g>
<g fill="#1e90ea" stroke="#06182c" stroke-width="1.2">
<circle cx="1631.2" cy="1248.3" r="3"/>
<circle cx="1631.2" cy="1359" r="3"/>
<circle cx="1633.8" cy="1402.6" r="3"/>
<circle cx="1628.6" cy="1408.8" r="3"/>
<circle cx="1628.6" cy="1417.5" r="3"/>
<circle cx="1633.8" cy="1417.5" r="3"/>
<circle cx="1628.6" cy="1434.5" r="3"/>
<circle cx="1633.8" cy="1434.5" r="3"/>
<circle cx="1644.5" cy="1455" r="3"/>
<circle cx="1618.2" cy="1458.1" r="3"/>
<circle cx="1628.6" cy="1460.4" r="3"/>
<circle cx="1639" cy="1461.5" r="3"/>
<circle cx="1644.2" cy="1461.9" r="3"/>
<circle cx="1623.6" cy="1464.6" r="3"/>
<circle cx="1633.8" cy="1464" r="3"/>
<circle cx="1628.6" cy="1469.4" r="3"/>
<circle cx="1639" cy="1469.1" r="3"/>
<circle cx="1613.8" cy="1471" r="3"/>
<circle cx="1618.9" cy="1472" r="3"/>
<circle cx="1633.8" cy="1470.7" r="3"/>
<circle cx="1649.5" cy="1471.2" r="3"/>
<circle cx="1623.6" cy="1474.3" r="3"/>
<circle cx="1644.2" cy="1475.1" r="3"/>
<circle cx="1628.6" cy="1476.9" r="3"/>
<circle cx="1618.6" cy="1478.6" r="3"/>
<circle cx="1639" cy="1479.2" r="3"/>
<circle cx="1633.8" cy="1480.3" r="3"/>
<circle cx="1623.6" cy="1485.1" r="3"/>
</g>
<g fill="#f48080" stroke="#2e0c0c" stroke-width="1.2">
<circle cx="1693.7" cy="1380.4" r="3"/>
<circle cx="1697.4" cy="1404.3" r="3"/>
<circle cx="1690.3" cy="1408" r="3"/>
<circle cx="1683.4" cy="1423.3" r="3"/>
<circle cx="1704.5" cy="1423.3" r="3"/>
<circle cx="1690.3" cy="1426.8" r="3"/>
<circle cx="1697.4" cy="1433.3" r="3"/>
<circle cx="1690.3" cy="1435.3" r="3"/>
<circle cx="1690.3" cy="1443.8" r="3"/>
<circle cx="1697.4" cy="1440.7" r="3"/>
<circle cx="1683.4" cy="1451.7" r="3"/>
<circle cx="1704.5" cy="1453.7" r="3"/>
<circle cx="1683.4" cy="1458.1" r="3"/>
<circle cx="1711.7" cy="1458.8" r="3"/>
<circle cx="1676.5" cy="1462.7" r="3"/>
<circle cx="1683.4" cy="1464.3" r="3"/>
<circle cx="1690.3" cy="1463.2" r="3"/>
<circle cx="1704.5" cy="1463.2" r="3"/>
<circle cx="1697.4" cy="1467.6" r="3"/>
<circle cx="1711.7" cy="1466.2" r="3"/>
<circle cx="1693.8" cy="1481.3" r="3"/>
</g>
<line x1="1464.05" y1="1436" x2="1464.05" y2="1450.9" stroke="#000" stroke-width="5.1"/>
<line x1="1454.1" y1="1436" x2="1474" y2="1436" stroke="#000" stroke-width="4.7" stroke-linecap="round"/>
<line x1="1454.1" y1="1450.9" x2="1474" y2="1450.9" stroke="#000" stroke-width="4.7" stroke-linecap="round"/>
<line x1="1526.95" y1="1442.6" x2="1526.95" y2="1450.7" stroke="#000" stroke-width="5.1"/>
<line x1="1517" y1="1442.6" x2="1536.9" y2="1442.6" stroke="#000" stroke-width="4.7" stroke-linecap="round"/>
<line x1="1517" y1="1450.7" x2="1536.9" y2="1450.7" stroke="#000" stroke-width="4.7" stroke-linecap="round"/>
<line x1="1631.4" y1="1439.1" x2="1631.4" y2="1456.5" stroke="#000" stroke-width="5.1"/>
<line x1="1621.45" y1="1439.1" x2="1641.35" y2="1439.1" stroke="#000" stroke-width="4.7" stroke-linecap="round"/>
<line x1="1621.45" y1="1456.5" x2="1641.35" y2="1456.5" stroke="#000" stroke-width="4.7" stroke-linecap="round"/>
<line x1="1694.05" y1="1437.6" x2="1694.05" y2="1448.8" stroke="#000" stroke-width="5.1"/>
<line x1="1684.1" y1="1437.6" x2="1704" y2="1437.6" stroke="#000" stroke-width="4.7" stroke-linecap="round"/>
<line x1="1684.1" y1="1448.8" x2="1704" y2="1448.8" stroke="#000" stroke-width="4.7" stroke-linecap="round"/>
<text transform="translate(1494.2 1544.3) scale(0.960 1)" font-size="30.8" font-weight="normal" text-anchor="middle" fill="#000" stroke="#000" stroke-width="0.25" stroke-linejoin="round">Young</text>
<text transform="translate(1662 1544.3) scale(0.960 1)" font-size="30.8" font-weight="normal" text-anchor="middle" fill="#000" stroke="#000" stroke-width="0.25" stroke-linejoin="round">Aged</text>
<text transform="translate(1348.8 1346) rotate(-90) scale(0.934 1)" font-size="32" font-weight="bold" text-anchor="middle" fill="#000" stroke="#000" stroke-width="0.3" stroke-linejoin="round">Accommodation</text>
<text transform="translate(1290 1166.1)" font-size="61" font-weight="bold" text-anchor="start" fill="#2b2b2b">i</text>
</g>
<path d="M970.8 171.8V146.7H1130.3V171.8" fill="none" stroke="#000" stroke-width="3.3" stroke-linecap="round" stroke-linejoin="miter"/>
<text transform="translate(1050.5 131.5) scale(0.965 1)" font-size="26" font-weight="normal" text-anchor="middle" fill="#000" stroke="#000" stroke-width="0.25" stroke-linejoin="round">0.0104</text>
<path d="M970.8 231V213.2H1032.4V231" fill="none" stroke="#000" stroke-width="3.3" stroke-linecap="round" stroke-linejoin="miter"/>
<text transform="translate(1001.5 197.3) scale(0.965 1)" font-size="26" font-weight="normal" text-anchor="middle" fill="#000" stroke="#000" stroke-width="0.25" stroke-linejoin="round">&lt;0.0001</text>
<line x1="1459.6" y1="181.7" x2="1701.3" y2="181.7" stroke="#000" stroke-width="3.3" stroke-linecap="round"/>
<text transform="translate(1580.6 164.9) scale(0.965 1)" font-size="26" font-weight="normal" text-anchor="middle" fill="#000" stroke="#000" stroke-width="0.25" stroke-linejoin="round">ns</text>
</svg>
</body>
</html>
